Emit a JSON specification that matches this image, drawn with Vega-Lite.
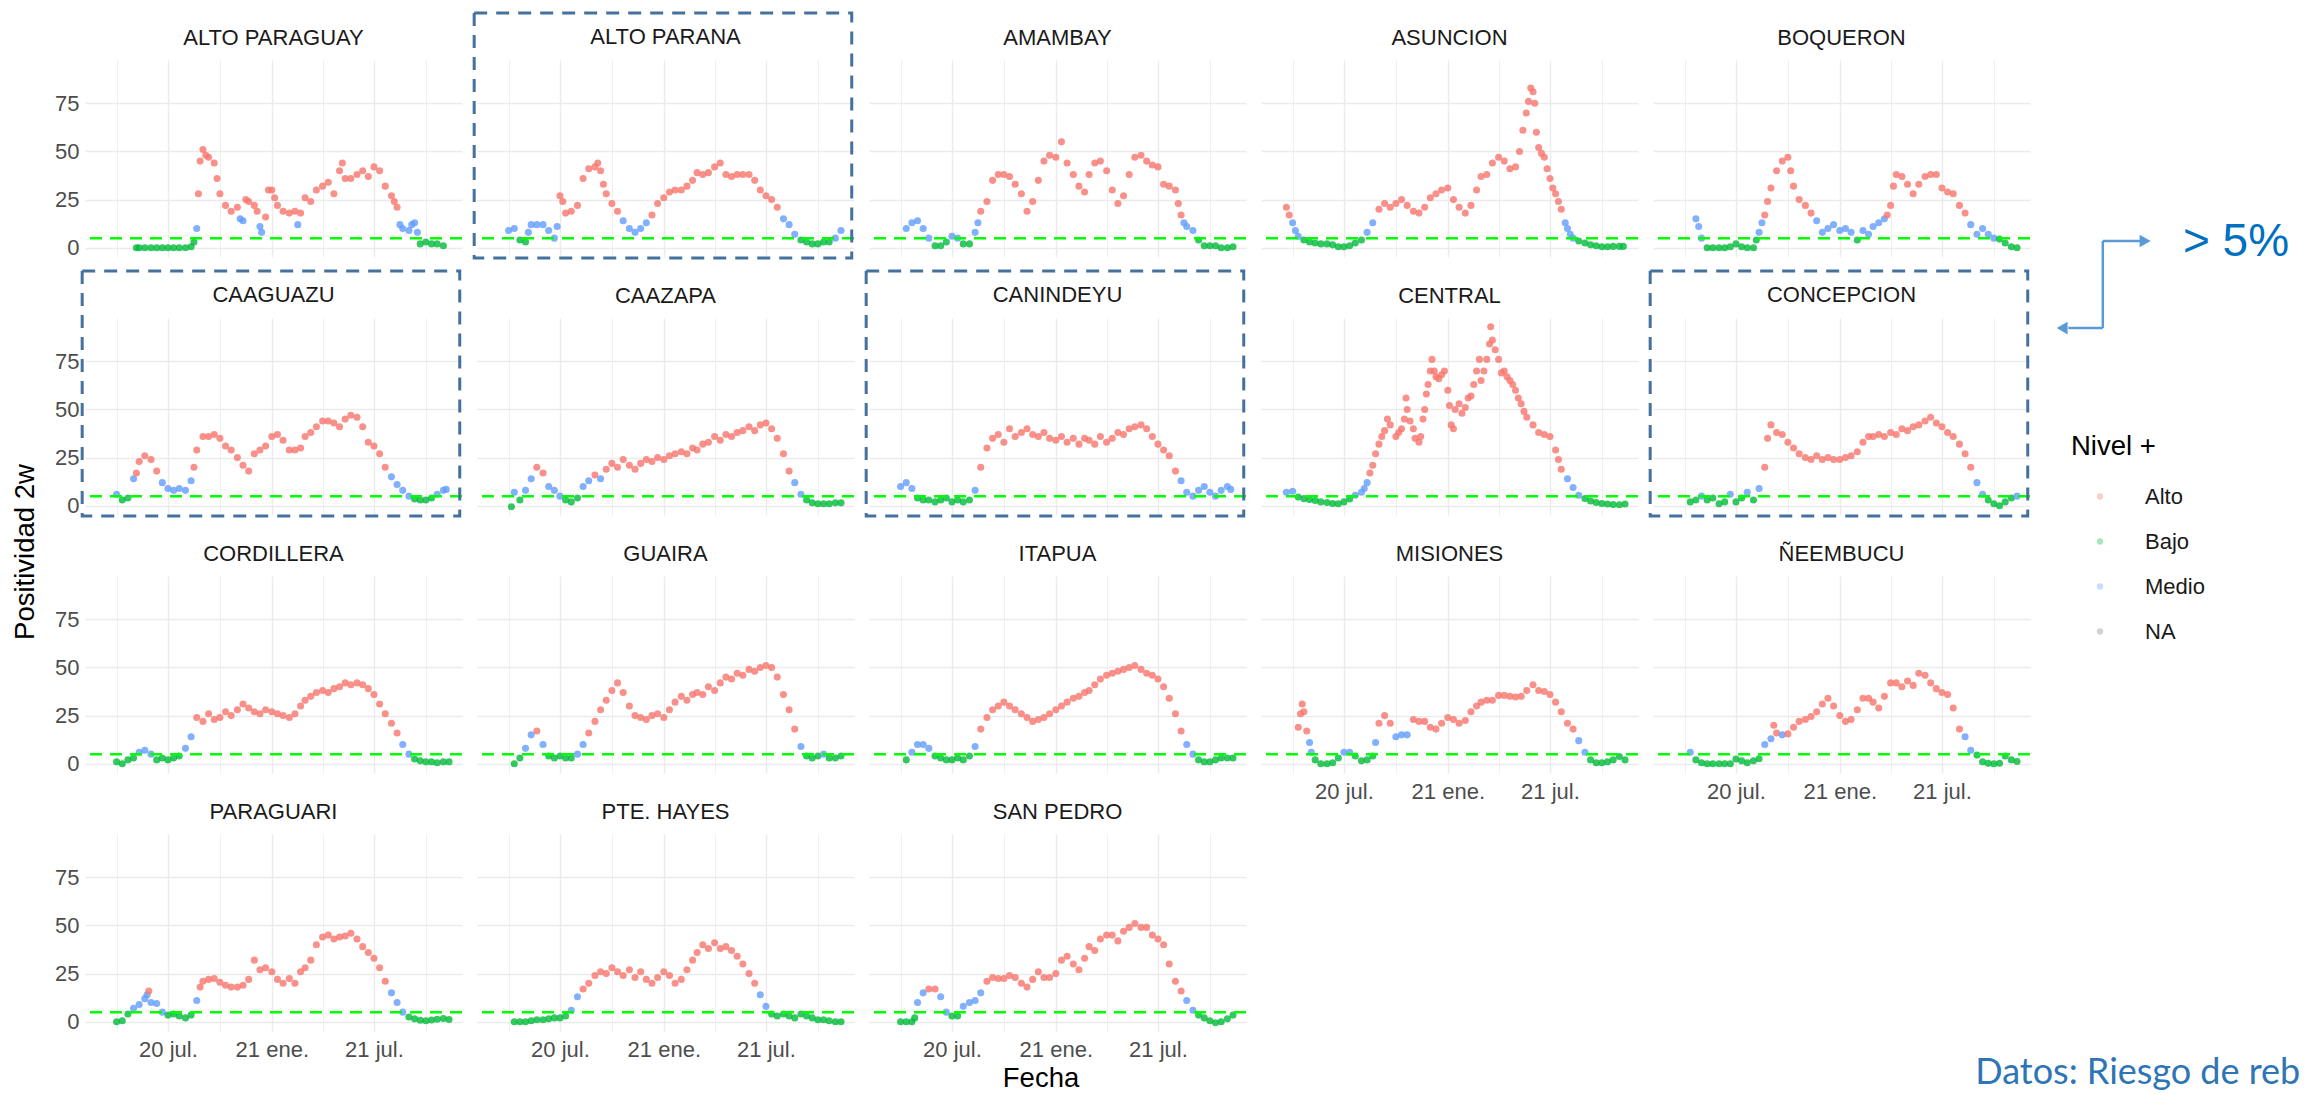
{
  "$schema": "https://vega.github.io/schema/vega-lite/v6.json",
  "background": "white",
  "padding": {"left": 12, "top": 11, "right": 5, "bottom": 2},
  "title": {"text": "Positividad 2w", "orient": "left", "anchor": "middle", "font": "Liberation Sans", "fontSize": 27.5, "fontWeight": "normal", "color": "#000000", "offset": 15},
  "data": {"values": [
{"p":"ALTO PARAGUAY","d":"2020-05-06","v":0,"n":"Bajo"},{"p":"ALTO PARAGUAY","d":"2020-05-11","v":0,"n":"Bajo"},{"p":"ALTO PARAGUAY","d":"2020-05-21","v":0,"n":"Bajo"},{"p":"ALTO PARAGUAY","d":"2020-06-01","v":0,"n":"Bajo"},{"p":"ALTO PARAGUAY","d":"2020-06-11","v":0,"n":"Bajo"},{"p":"ALTO PARAGUAY","d":"2020-06-21","v":0,"n":"Bajo"},{"p":"ALTO PARAGUAY","d":"2020-07-01","v":0,"n":"Bajo"},{"p":"ALTO PARAGUAY","d":"2020-07-11","v":0,"n":"Bajo"},{"p":"ALTO PARAGUAY","d":"2020-07-21","v":0,"n":"Bajo"},{"p":"ALTO PARAGUAY","d":"2020-08-01","v":0,"n":"Bajo"},{"p":"ALTO PARAGUAY","d":"2020-08-11","v":0.5,"n":"Bajo"},{"p":"ALTO PARAGUAY","d":"2020-08-16","v":3,"n":"Bajo"},{"p":"ALTO PARAGUAY","d":"2020-08-21","v":10,"n":"Medio"},{"p":"ALTO PARAGUAY","d":"2020-08-24","v":28,"n":"Alto"},{"p":"ALTO PARAGUAY","d":"2020-08-27","v":45,"n":"Alto"},{"p":"ALTO PARAGUAY","d":"2020-09-01","v":51,"n":"Alto"},{"p":"ALTO PARAGUAY","d":"2020-09-06","v":48,"n":"Alto"},{"p":"ALTO PARAGUAY","d":"2020-09-11","v":47,"n":"Alto"},{"p":"ALTO PARAGUAY","d":"2020-09-21","v":44,"n":"Alto"},{"p":"ALTO PARAGUAY","d":"2020-09-26","v":36,"n":"Alto"},{"p":"ALTO PARAGUAY","d":"2020-10-01","v":28,"n":"Alto"},{"p":"ALTO PARAGUAY","d":"2020-10-11","v":22,"n":"Alto"},{"p":"ALTO PARAGUAY","d":"2020-10-21","v":19,"n":"Alto"},{"p":"ALTO PARAGUAY","d":"2020-11-01","v":21,"n":"Alto"},{"p":"ALTO PARAGUAY","d":"2020-11-06","v":15,"n":"Medio"},{"p":"ALTO PARAGUAY","d":"2020-11-11","v":14,"n":"Medio"},{"p":"ALTO PARAGUAY","d":"2020-11-16","v":25,"n":"Alto"},{"p":"ALTO PARAGUAY","d":"2020-11-21","v":24,"n":"Alto"},{"p":"ALTO PARAGUAY","d":"2020-12-01","v":22,"n":"Alto"},{"p":"ALTO PARAGUAY","d":"2020-12-06","v":19,"n":"Alto"},{"p":"ALTO PARAGUAY","d":"2020-12-11","v":11,"n":"Medio"},{"p":"ALTO PARAGUAY","d":"2020-12-14","v":8,"n":"Medio"},{"p":"ALTO PARAGUAY","d":"2020-12-21","v":16,"n":"Alto"},{"p":"ALTO PARAGUAY","d":"2020-12-26","v":30,"n":"Alto"},{"p":"ALTO PARAGUAY","d":"2021-01-01","v":30,"n":"Alto"},{"p":"ALTO PARAGUAY","d":"2021-01-06","v":26,"n":"Alto"},{"p":"ALTO PARAGUAY","d":"2021-01-11","v":22,"n":"Alto"},{"p":"ALTO PARAGUAY","d":"2021-01-21","v":19,"n":"Alto"},{"p":"ALTO PARAGUAY","d":"2021-02-01","v":18,"n":"Alto"},{"p":"ALTO PARAGUAY","d":"2021-02-11","v":19,"n":"Alto"},{"p":"ALTO PARAGUAY","d":"2021-02-16","v":12,"n":"Medio"},{"p":"ALTO PARAGUAY","d":"2021-02-21","v":18,"n":"Alto"},{"p":"ALTO PARAGUAY","d":"2021-03-01","v":26,"n":"Alto"},{"p":"ALTO PARAGUAY","d":"2021-03-11","v":24,"n":"Alto"},{"p":"ALTO PARAGUAY","d":"2021-03-21","v":30,"n":"Alto"},{"p":"ALTO PARAGUAY","d":"2021-04-01","v":32,"n":"Alto"},{"p":"ALTO PARAGUAY","d":"2021-04-11","v":34,"n":"Alto"},{"p":"ALTO PARAGUAY","d":"2021-04-21","v":28,"n":"Alto"},{"p":"ALTO PARAGUAY","d":"2021-05-01","v":40,"n":"Alto"},{"p":"ALTO PARAGUAY","d":"2021-05-06","v":44,"n":"Alto"},{"p":"ALTO PARAGUAY","d":"2021-05-11","v":36,"n":"Alto"},{"p":"ALTO PARAGUAY","d":"2021-05-21","v":36,"n":"Alto"},{"p":"ALTO PARAGUAY","d":"2021-06-01","v":38,"n":"Alto"},{"p":"ALTO PARAGUAY","d":"2021-06-11","v":40,"n":"Alto"},{"p":"ALTO PARAGUAY","d":"2021-06-21","v":37,"n":"Alto"},{"p":"ALTO PARAGUAY","d":"2021-07-01","v":42,"n":"Alto"},{"p":"ALTO PARAGUAY","d":"2021-07-11","v":40,"n":"Alto"},{"p":"ALTO PARAGUAY","d":"2021-07-21","v":32,"n":"Alto"},{"p":"ALTO PARAGUAY","d":"2021-08-01","v":27,"n":"Alto"},{"p":"ALTO PARAGUAY","d":"2021-08-06","v":24,"n":"Alto"},{"p":"ALTO PARAGUAY","d":"2021-08-11","v":21,"n":"Alto"},{"p":"ALTO PARAGUAY","d":"2021-08-16","v":12,"n":"Medio"},{"p":"ALTO PARAGUAY","d":"2021-08-21","v":10,"n":"Medio"},{"p":"ALTO PARAGUAY","d":"2021-09-01","v":9,"n":"Medio"},{"p":"ALTO PARAGUAY","d":"2021-09-06","v":12,"n":"Medio"},{"p":"ALTO PARAGUAY","d":"2021-09-11","v":13,"n":"Medio"},{"p":"ALTO PARAGUAY","d":"2021-09-16","v":8,"n":"Medio"},{"p":"ALTO PARAGUAY","d":"2021-09-21","v":2,"n":"Bajo"},{"p":"ALTO PARAGUAY","d":"2021-10-01","v":3,"n":"Bajo"},{"p":"ALTO PARAGUAY","d":"2021-10-11","v":2,"n":"Bajo"},{"p":"ALTO PARAGUAY","d":"2021-10-21","v":2,"n":"Bajo"},{"p":"ALTO PARAGUAY","d":"2021-11-01","v":1,"n":"Bajo"},
{"p":"ALTO PARANA","d":"2020-04-01","v":9,"n":"Medio"},{"p":"ALTO PARANA","d":"2020-04-11","v":10,"n":"Medio"},{"p":"ALTO PARANA","d":"2020-04-21","v":4,"n":"Bajo"},{"p":"ALTO PARANA","d":"2020-05-01","v":3,"n":"Bajo"},{"p":"ALTO PARANA","d":"2020-05-06","v":8,"n":"Medio"},{"p":"ALTO PARANA","d":"2020-05-11","v":12,"n":"Medio"},{"p":"ALTO PARANA","d":"2020-05-21","v":12,"n":"Medio"},{"p":"ALTO PARANA","d":"2020-06-01","v":12,"n":"Medio"},{"p":"ALTO PARANA","d":"2020-06-11","v":9,"n":"Medio"},{"p":"ALTO PARANA","d":"2020-06-21","v":5,"n":"Medio"},{"p":"ALTO PARANA","d":"2020-06-26","v":11,"n":"Medio"},{"p":"ALTO PARANA","d":"2020-07-01","v":27,"n":"Alto"},{"p":"ALTO PARANA","d":"2020-07-06","v":24,"n":"Alto"},{"p":"ALTO PARANA","d":"2020-07-11","v":18,"n":"Alto"},{"p":"ALTO PARANA","d":"2020-07-21","v":19,"n":"Alto"},{"p":"ALTO PARANA","d":"2020-08-01","v":22,"n":"Alto"},{"p":"ALTO PARANA","d":"2020-08-11","v":36,"n":"Alto"},{"p":"ALTO PARANA","d":"2020-08-21","v":41,"n":"Alto"},{"p":"ALTO PARANA","d":"2020-09-01","v":42,"n":"Alto"},{"p":"ALTO PARANA","d":"2020-09-06","v":44,"n":"Alto"},{"p":"ALTO PARANA","d":"2020-09-11","v":40,"n":"Alto"},{"p":"ALTO PARANA","d":"2020-09-16","v":33,"n":"Alto"},{"p":"ALTO PARANA","d":"2020-09-21","v":28,"n":"Alto"},{"p":"ALTO PARANA","d":"2020-10-01","v":23,"n":"Alto"},{"p":"ALTO PARANA","d":"2020-10-11","v":19,"n":"Alto"},{"p":"ALTO PARANA","d":"2020-10-21","v":14,"n":"Medio"},{"p":"ALTO PARANA","d":"2020-11-01","v":10,"n":"Medio"},{"p":"ALTO PARANA","d":"2020-11-11","v":8,"n":"Medio"},{"p":"ALTO PARANA","d":"2020-11-21","v":10,"n":"Medio"},{"p":"ALTO PARANA","d":"2020-12-01","v":13,"n":"Medio"},{"p":"ALTO PARANA","d":"2020-12-11","v":17,"n":"Alto"},{"p":"ALTO PARANA","d":"2020-12-21","v":23,"n":"Alto"},{"p":"ALTO PARANA","d":"2021-01-01","v":26,"n":"Alto"},{"p":"ALTO PARANA","d":"2021-01-11","v":29,"n":"Alto"},{"p":"ALTO PARANA","d":"2021-01-21","v":30,"n":"Alto"},{"p":"ALTO PARANA","d":"2021-02-01","v":30,"n":"Alto"},{"p":"ALTO PARANA","d":"2021-02-11","v":32,"n":"Alto"},{"p":"ALTO PARANA","d":"2021-02-21","v":35,"n":"Alto"},{"p":"ALTO PARANA","d":"2021-03-01","v":39,"n":"Alto"},{"p":"ALTO PARANA","d":"2021-03-11","v":38,"n":"Alto"},{"p":"ALTO PARANA","d":"2021-03-21","v":39,"n":"Alto"},{"p":"ALTO PARANA","d":"2021-04-01","v":42,"n":"Alto"},{"p":"ALTO PARANA","d":"2021-04-11","v":44,"n":"Alto"},{"p":"ALTO PARANA","d":"2021-04-21","v":38,"n":"Alto"},{"p":"ALTO PARANA","d":"2021-05-01","v":37,"n":"Alto"},{"p":"ALTO PARANA","d":"2021-05-11","v":38,"n":"Alto"},{"p":"ALTO PARANA","d":"2021-05-21","v":38,"n":"Alto"},{"p":"ALTO PARANA","d":"2021-06-01","v":38,"n":"Alto"},{"p":"ALTO PARANA","d":"2021-06-11","v":35,"n":"Alto"},{"p":"ALTO PARANA","d":"2021-06-21","v":30,"n":"Alto"},{"p":"ALTO PARANA","d":"2021-07-01","v":27,"n":"Alto"},{"p":"ALTO PARANA","d":"2021-07-11","v":25,"n":"Alto"},{"p":"ALTO PARANA","d":"2021-07-21","v":21,"n":"Alto"},{"p":"ALTO PARANA","d":"2021-08-01","v":15,"n":"Medio"},{"p":"ALTO PARANA","d":"2021-08-11","v":12,"n":"Medio"},{"p":"ALTO PARANA","d":"2021-08-21","v":7,"n":"Medio"},{"p":"ALTO PARANA","d":"2021-09-01","v":4,"n":"Bajo"},{"p":"ALTO PARANA","d":"2021-09-11","v":3,"n":"Bajo"},{"p":"ALTO PARANA","d":"2021-09-21","v":2,"n":"Bajo"},{"p":"ALTO PARANA","d":"2021-10-01","v":2,"n":"Bajo"},{"p":"ALTO PARANA","d":"2021-10-11","v":3,"n":"Bajo"},{"p":"ALTO PARANA","d":"2021-10-21","v":3,"n":"Bajo"},{"p":"ALTO PARANA","d":"2021-11-01","v":5,"n":"Medio"},{"p":"ALTO PARANA","d":"2021-11-11","v":9,"n":"Medio"},
{"p":"AMAMBAY","d":"2020-04-11","v":10,"n":"Medio"},{"p":"AMAMBAY","d":"2020-04-21","v":13,"n":"Medio"},{"p":"AMAMBAY","d":"2020-05-01","v":14,"n":"Medio"},{"p":"AMAMBAY","d":"2020-05-11","v":10,"n":"Medio"},{"p":"AMAMBAY","d":"2020-05-21","v":5,"n":"Medio"},{"p":"AMAMBAY","d":"2020-06-01","v":1,"n":"Bajo"},{"p":"AMAMBAY","d":"2020-06-11","v":1,"n":"Bajo"},{"p":"AMAMBAY","d":"2020-06-21","v":3,"n":"Bajo"},{"p":"AMAMBAY","d":"2020-07-01","v":6,"n":"Medio"},{"p":"AMAMBAY","d":"2020-07-11","v":5,"n":"Medio"},{"p":"AMAMBAY","d":"2020-07-21","v":2,"n":"Bajo"},{"p":"AMAMBAY","d":"2020-08-01","v":2,"n":"Bajo"},{"p":"AMAMBAY","d":"2020-08-11","v":8,"n":"Medio"},{"p":"AMAMBAY","d":"2020-08-16","v":13,"n":"Medio"},{"p":"AMAMBAY","d":"2020-08-21","v":19,"n":"Alto"},{"p":"AMAMBAY","d":"2020-09-01","v":24,"n":"Alto"},{"p":"AMAMBAY","d":"2020-09-11","v":35,"n":"Alto"},{"p":"AMAMBAY","d":"2020-09-21","v":38,"n":"Alto"},{"p":"AMAMBAY","d":"2020-10-01","v":38,"n":"Alto"},{"p":"AMAMBAY","d":"2020-10-11","v":37,"n":"Alto"},{"p":"AMAMBAY","d":"2020-10-21","v":33,"n":"Alto"},{"p":"AMAMBAY","d":"2020-11-01","v":28,"n":"Alto"},{"p":"AMAMBAY","d":"2020-11-11","v":19,"n":"Alto"},{"p":"AMAMBAY","d":"2020-11-21","v":24,"n":"Alto"},{"p":"AMAMBAY","d":"2020-12-01","v":35,"n":"Alto"},{"p":"AMAMBAY","d":"2020-12-11","v":45,"n":"Alto"},{"p":"AMAMBAY","d":"2020-12-21","v":48,"n":"Alto"},{"p":"AMAMBAY","d":"2021-01-01","v":47,"n":"Alto"},{"p":"AMAMBAY","d":"2021-01-11","v":55,"n":"Alto"},{"p":"AMAMBAY","d":"2021-01-21","v":44,"n":"Alto"},{"p":"AMAMBAY","d":"2021-02-01","v":38,"n":"Alto"},{"p":"AMAMBAY","d":"2021-02-11","v":32,"n":"Alto"},{"p":"AMAMBAY","d":"2021-02-21","v":29,"n":"Alto"},{"p":"AMAMBAY","d":"2021-03-01","v":38,"n":"Alto"},{"p":"AMAMBAY","d":"2021-03-11","v":44,"n":"Alto"},{"p":"AMAMBAY","d":"2021-03-21","v":45,"n":"Alto"},{"p":"AMAMBAY","d":"2021-04-01","v":40,"n":"Alto"},{"p":"AMAMBAY","d":"2021-04-11","v":30,"n":"Alto"},{"p":"AMAMBAY","d":"2021-04-21","v":23,"n":"Alto"},{"p":"AMAMBAY","d":"2021-05-01","v":27,"n":"Alto"},{"p":"AMAMBAY","d":"2021-05-11","v":38,"n":"Alto"},{"p":"AMAMBAY","d":"2021-05-21","v":47,"n":"Alto"},{"p":"AMAMBAY","d":"2021-06-01","v":48,"n":"Alto"},{"p":"AMAMBAY","d":"2021-06-11","v":45,"n":"Alto"},{"p":"AMAMBAY","d":"2021-06-21","v":43,"n":"Alto"},{"p":"AMAMBAY","d":"2021-07-01","v":42,"n":"Alto"},{"p":"AMAMBAY","d":"2021-07-11","v":33,"n":"Alto"},{"p":"AMAMBAY","d":"2021-07-21","v":32,"n":"Alto"},{"p":"AMAMBAY","d":"2021-08-01","v":30,"n":"Alto"},{"p":"AMAMBAY","d":"2021-08-06","v":23,"n":"Alto"},{"p":"AMAMBAY","d":"2021-08-11","v":17,"n":"Alto"},{"p":"AMAMBAY","d":"2021-08-16","v":13,"n":"Medio"},{"p":"AMAMBAY","d":"2021-08-21","v":11,"n":"Medio"},{"p":"AMAMBAY","d":"2021-09-01","v":9,"n":"Medio"},{"p":"AMAMBAY","d":"2021-09-11","v":4,"n":"Bajo"},{"p":"AMAMBAY","d":"2021-09-21","v":1,"n":"Bajo"},{"p":"AMAMBAY","d":"2021-10-01","v":1,"n":"Bajo"},{"p":"AMAMBAY","d":"2021-10-11","v":1,"n":"Bajo"},{"p":"AMAMBAY","d":"2021-10-21","v":0,"n":"Bajo"},{"p":"AMAMBAY","d":"2021-11-01","v":0,"n":"Bajo"},{"p":"AMAMBAY","d":"2021-11-11","v":0.5,"n":"Bajo"},
{"p":"ASUNCION","d":"2020-03-21","v":21,"n":"Alto"},{"p":"ASUNCION","d":"2020-03-26","v":17,"n":"Alto"},{"p":"ASUNCION","d":"2020-04-01","v":13,"n":"Medio"},{"p":"ASUNCION","d":"2020-04-06","v":9,"n":"Medio"},{"p":"ASUNCION","d":"2020-04-11","v":6,"n":"Medio"},{"p":"ASUNCION","d":"2020-04-21","v":4,"n":"Bajo"},{"p":"ASUNCION","d":"2020-05-01","v":3,"n":"Bajo"},{"p":"ASUNCION","d":"2020-05-11","v":2.5,"n":"Bajo"},{"p":"ASUNCION","d":"2020-05-21","v":2,"n":"Bajo"},{"p":"ASUNCION","d":"2020-06-01","v":2,"n":"Bajo"},{"p":"ASUNCION","d":"2020-06-11","v":1.5,"n":"Bajo"},{"p":"ASUNCION","d":"2020-06-21","v":0.5,"n":"Bajo"},{"p":"ASUNCION","d":"2020-07-01","v":0.5,"n":"Bajo"},{"p":"ASUNCION","d":"2020-07-11","v":1,"n":"Bajo"},{"p":"ASUNCION","d":"2020-07-21","v":2.5,"n":"Bajo"},{"p":"ASUNCION","d":"2020-08-01","v":4,"n":"Bajo"},{"p":"ASUNCION","d":"2020-08-11","v":8,"n":"Medio"},{"p":"ASUNCION","d":"2020-08-21","v":13,"n":"Medio"},{"p":"ASUNCION","d":"2020-09-01","v":20,"n":"Alto"},{"p":"ASUNCION","d":"2020-09-11","v":23,"n":"Alto"},{"p":"ASUNCION","d":"2020-09-21","v":21,"n":"Alto"},{"p":"ASUNCION","d":"2020-10-01","v":23,"n":"Alto"},{"p":"ASUNCION","d":"2020-10-11","v":25,"n":"Alto"},{"p":"ASUNCION","d":"2020-10-21","v":22,"n":"Alto"},{"p":"ASUNCION","d":"2020-11-01","v":19,"n":"Alto"},{"p":"ASUNCION","d":"2020-11-11","v":18,"n":"Alto"},{"p":"ASUNCION","d":"2020-11-21","v":21,"n":"Alto"},{"p":"ASUNCION","d":"2020-12-01","v":26,"n":"Alto"},{"p":"ASUNCION","d":"2020-12-11","v":28,"n":"Alto"},{"p":"ASUNCION","d":"2020-12-21","v":30,"n":"Alto"},{"p":"ASUNCION","d":"2021-01-01","v":31,"n":"Alto"},{"p":"ASUNCION","d":"2021-01-11","v":25,"n":"Alto"},{"p":"ASUNCION","d":"2021-01-21","v":21,"n":"Alto"},{"p":"ASUNCION","d":"2021-02-01","v":18,"n":"Alto"},{"p":"ASUNCION","d":"2021-02-11","v":22,"n":"Alto"},{"p":"ASUNCION","d":"2021-02-21","v":30,"n":"Alto"},{"p":"ASUNCION","d":"2021-03-01","v":37,"n":"Alto"},{"p":"ASUNCION","d":"2021-03-11","v":38,"n":"Alto"},{"p":"ASUNCION","d":"2021-03-21","v":44,"n":"Alto"},{"p":"ASUNCION","d":"2021-04-01","v":47,"n":"Alto"},{"p":"ASUNCION","d":"2021-04-11","v":45,"n":"Alto"},{"p":"ASUNCION","d":"2021-04-21","v":41,"n":"Alto"},{"p":"ASUNCION","d":"2021-05-01","v":42,"n":"Alto"},{"p":"ASUNCION","d":"2021-05-08","v":50,"n":"Alto"},{"p":"ASUNCION","d":"2021-05-14","v":61,"n":"Alto"},{"p":"ASUNCION","d":"2021-05-20","v":70,"n":"Alto"},{"p":"ASUNCION","d":"2021-05-24","v":76,"n":"Alto"},{"p":"ASUNCION","d":"2021-05-28","v":83,"n":"Alto"},{"p":"ASUNCION","d":"2021-06-01","v":81,"n":"Alto"},{"p":"ASUNCION","d":"2021-06-04","v":75,"n":"Alto"},{"p":"ASUNCION","d":"2021-06-07","v":60,"n":"Alto"},{"p":"ASUNCION","d":"2021-06-11","v":52,"n":"Alto"},{"p":"ASUNCION","d":"2021-06-16","v":49,"n":"Alto"},{"p":"ASUNCION","d":"2021-06-21","v":47,"n":"Alto"},{"p":"ASUNCION","d":"2021-06-26","v":41,"n":"Alto"},{"p":"ASUNCION","d":"2021-07-01","v":36,"n":"Alto"},{"p":"ASUNCION","d":"2021-07-06","v":31,"n":"Alto"},{"p":"ASUNCION","d":"2021-07-11","v":28,"n":"Alto"},{"p":"ASUNCION","d":"2021-07-16","v":24,"n":"Alto"},{"p":"ASUNCION","d":"2021-07-21","v":20,"n":"Alto"},{"p":"ASUNCION","d":"2021-07-28","v":13,"n":"Medio"},{"p":"ASUNCION","d":"2021-08-01","v":10,"n":"Medio"},{"p":"ASUNCION","d":"2021-08-06","v":7,"n":"Medio"},{"p":"ASUNCION","d":"2021-08-11","v":5,"n":"Medio"},{"p":"ASUNCION","d":"2021-08-21","v":3.5,"n":"Bajo"},{"p":"ASUNCION","d":"2021-09-01","v":2.5,"n":"Bajo"},{"p":"ASUNCION","d":"2021-09-11","v":1.5,"n":"Bajo"},{"p":"ASUNCION","d":"2021-09-21","v":1,"n":"Bajo"},{"p":"ASUNCION","d":"2021-10-01","v":0.5,"n":"Bajo"},{"p":"ASUNCION","d":"2021-10-11","v":0.5,"n":"Bajo"},{"p":"ASUNCION","d":"2021-10-21","v":0.7,"n":"Bajo"},{"p":"ASUNCION","d":"2021-11-01","v":0.7,"n":"Bajo"},{"p":"ASUNCION","d":"2021-11-08","v":0.7,"n":"Bajo"},
{"p":"BOQUERON","d":"2020-04-21","v":15,"n":"Medio"},{"p":"BOQUERON","d":"2020-04-26","v":11,"n":"Medio"},{"p":"BOQUERON","d":"2020-05-01","v":5,"n":"Medio"},{"p":"BOQUERON","d":"2020-05-11","v":0,"n":"Bajo"},{"p":"BOQUERON","d":"2020-05-21","v":0,"n":"Bajo"},{"p":"BOQUERON","d":"2020-06-01","v":0,"n":"Bajo"},{"p":"BOQUERON","d":"2020-06-11","v":0,"n":"Bajo"},{"p":"BOQUERON","d":"2020-06-21","v":0.5,"n":"Bajo"},{"p":"BOQUERON","d":"2020-07-01","v":2,"n":"Bajo"},{"p":"BOQUERON","d":"2020-07-11","v":0.5,"n":"Bajo"},{"p":"BOQUERON","d":"2020-07-21","v":0,"n":"Bajo"},{"p":"BOQUERON","d":"2020-08-01","v":0,"n":"Bajo"},{"p":"BOQUERON","d":"2020-08-06","v":4,"n":"Bajo"},{"p":"BOQUERON","d":"2020-08-11","v":8,"n":"Medio"},{"p":"BOQUERON","d":"2020-08-16","v":13,"n":"Medio"},{"p":"BOQUERON","d":"2020-08-21","v":17,"n":"Alto"},{"p":"BOQUERON","d":"2020-08-26","v":24,"n":"Alto"},{"p":"BOQUERON","d":"2020-09-01","v":31,"n":"Alto"},{"p":"BOQUERON","d":"2020-09-11","v":40,"n":"Alto"},{"p":"BOQUERON","d":"2020-09-21","v":45,"n":"Alto"},{"p":"BOQUERON","d":"2020-10-01","v":47,"n":"Alto"},{"p":"BOQUERON","d":"2020-10-06","v":40,"n":"Alto"},{"p":"BOQUERON","d":"2020-10-11","v":32,"n":"Alto"},{"p":"BOQUERON","d":"2020-10-21","v":25,"n":"Alto"},{"p":"BOQUERON","d":"2020-11-01","v":22,"n":"Alto"},{"p":"BOQUERON","d":"2020-11-11","v":18,"n":"Alto"},{"p":"BOQUERON","d":"2020-11-21","v":14,"n":"Medio"},{"p":"BOQUERON","d":"2020-12-01","v":8,"n":"Medio"},{"p":"BOQUERON","d":"2020-12-11","v":10,"n":"Medio"},{"p":"BOQUERON","d":"2020-12-21","v":12,"n":"Medio"},{"p":"BOQUERON","d":"2021-01-01","v":9,"n":"Medio"},{"p":"BOQUERON","d":"2021-01-11","v":10,"n":"Medio"},{"p":"BOQUERON","d":"2021-01-21","v":8,"n":"Medio"},{"p":"BOQUERON","d":"2021-02-01","v":4,"n":"Bajo"},{"p":"BOQUERON","d":"2021-02-11","v":9,"n":"Medio"},{"p":"BOQUERON","d":"2021-02-21","v":7,"n":"Medio"},{"p":"BOQUERON","d":"2021-03-01","v":11,"n":"Medio"},{"p":"BOQUERON","d":"2021-03-11","v":13,"n":"Medio"},{"p":"BOQUERON","d":"2021-03-21","v":15,"n":"Medio"},{"p":"BOQUERON","d":"2021-03-26","v":17,"n":"Alto"},{"p":"BOQUERON","d":"2021-04-01","v":22,"n":"Alto"},{"p":"BOQUERON","d":"2021-04-06","v":32,"n":"Alto"},{"p":"BOQUERON","d":"2021-04-11","v":38,"n":"Alto"},{"p":"BOQUERON","d":"2021-04-21","v":37,"n":"Alto"},{"p":"BOQUERON","d":"2021-05-01","v":33,"n":"Alto"},{"p":"BOQUERON","d":"2021-05-11","v":28,"n":"Alto"},{"p":"BOQUERON","d":"2021-05-21","v":33,"n":"Alto"},{"p":"BOQUERON","d":"2021-06-01","v":37,"n":"Alto"},{"p":"BOQUERON","d":"2021-06-11","v":38,"n":"Alto"},{"p":"BOQUERON","d":"2021-06-21","v":38,"n":"Alto"},{"p":"BOQUERON","d":"2021-07-01","v":31,"n":"Alto"},{"p":"BOQUERON","d":"2021-07-11","v":29,"n":"Alto"},{"p":"BOQUERON","d":"2021-07-21","v":28,"n":"Alto"},{"p":"BOQUERON","d":"2021-08-01","v":22,"n":"Alto"},{"p":"BOQUERON","d":"2021-08-11","v":18,"n":"Alto"},{"p":"BOQUERON","d":"2021-08-21","v":12,"n":"Medio"},{"p":"BOQUERON","d":"2021-09-01","v":7,"n":"Medio"},{"p":"BOQUERON","d":"2021-09-11","v":10,"n":"Medio"},{"p":"BOQUERON","d":"2021-09-21","v":7,"n":"Medio"},{"p":"BOQUERON","d":"2021-10-01","v":5,"n":"Medio"},{"p":"BOQUERON","d":"2021-10-11","v":4.5,"n":"Bajo"},{"p":"BOQUERON","d":"2021-10-21","v":2.5,"n":"Bajo"},{"p":"BOQUERON","d":"2021-11-01","v":0.5,"n":"Bajo"},{"p":"BOQUERON","d":"2021-11-11","v":0,"n":"Bajo"},
{"p":"CAAGUAZU","d":"2020-04-01","v":6,"n":"Medio"},{"p":"CAAGUAZU","d":"2020-04-11","v":3,"n":"Bajo"},{"p":"CAAGUAZU","d":"2020-04-21","v":4,"n":"Bajo"},{"p":"CAAGUAZU","d":"2020-05-01","v":14,"n":"Medio"},{"p":"CAAGUAZU","d":"2020-05-06","v":17,"n":"Alto"},{"p":"CAAGUAZU","d":"2020-05-11","v":23,"n":"Alto"},{"p":"CAAGUAZU","d":"2020-05-21","v":26,"n":"Alto"},{"p":"CAAGUAZU","d":"2020-06-01","v":24,"n":"Alto"},{"p":"CAAGUAZU","d":"2020-06-11","v":18,"n":"Alto"},{"p":"CAAGUAZU","d":"2020-06-21","v":12,"n":"Medio"},{"p":"CAAGUAZU","d":"2020-07-01","v":9,"n":"Medio"},{"p":"CAAGUAZU","d":"2020-07-11","v":8,"n":"Medio"},{"p":"CAAGUAZU","d":"2020-07-21","v":9,"n":"Medio"},{"p":"CAAGUAZU","d":"2020-08-01","v":8,"n":"Medio"},{"p":"CAAGUAZU","d":"2020-08-11","v":13,"n":"Medio"},{"p":"CAAGUAZU","d":"2020-08-16","v":20,"n":"Alto"},{"p":"CAAGUAZU","d":"2020-08-21","v":29,"n":"Alto"},{"p":"CAAGUAZU","d":"2020-09-01","v":36,"n":"Alto"},{"p":"CAAGUAZU","d":"2020-09-11","v":36,"n":"Alto"},{"p":"CAAGUAZU","d":"2020-09-21","v":37,"n":"Alto"},{"p":"CAAGUAZU","d":"2020-10-01","v":35,"n":"Alto"},{"p":"CAAGUAZU","d":"2020-10-11","v":31,"n":"Alto"},{"p":"CAAGUAZU","d":"2020-10-21","v":29,"n":"Alto"},{"p":"CAAGUAZU","d":"2020-11-01","v":25,"n":"Alto"},{"p":"CAAGUAZU","d":"2020-11-11","v":21,"n":"Alto"},{"p":"CAAGUAZU","d":"2020-11-21","v":18,"n":"Alto"},{"p":"CAAGUAZU","d":"2020-12-01","v":27,"n":"Alto"},{"p":"CAAGUAZU","d":"2020-12-11","v":29,"n":"Alto"},{"p":"CAAGUAZU","d":"2020-12-21","v":31,"n":"Alto"},{"p":"CAAGUAZU","d":"2021-01-01","v":36,"n":"Alto"},{"p":"CAAGUAZU","d":"2021-01-11","v":37,"n":"Alto"},{"p":"CAAGUAZU","d":"2021-01-21","v":34,"n":"Alto"},{"p":"CAAGUAZU","d":"2021-02-01","v":29,"n":"Alto"},{"p":"CAAGUAZU","d":"2021-02-11","v":29,"n":"Alto"},{"p":"CAAGUAZU","d":"2021-02-21","v":30,"n":"Alto"},{"p":"CAAGUAZU","d":"2021-03-01","v":36,"n":"Alto"},{"p":"CAAGUAZU","d":"2021-03-11","v":38,"n":"Alto"},{"p":"CAAGUAZU","d":"2021-03-21","v":41,"n":"Alto"},{"p":"CAAGUAZU","d":"2021-04-01","v":44,"n":"Alto"},{"p":"CAAGUAZU","d":"2021-04-11","v":44,"n":"Alto"},{"p":"CAAGUAZU","d":"2021-04-21","v":43,"n":"Alto"},{"p":"CAAGUAZU","d":"2021-05-01","v":41,"n":"Alto"},{"p":"CAAGUAZU","d":"2021-05-11","v":45,"n":"Alto"},{"p":"CAAGUAZU","d":"2021-05-21","v":47,"n":"Alto"},{"p":"CAAGUAZU","d":"2021-06-01","v":46,"n":"Alto"},{"p":"CAAGUAZU","d":"2021-06-11","v":41,"n":"Alto"},{"p":"CAAGUAZU","d":"2021-06-21","v":33,"n":"Alto"},{"p":"CAAGUAZU","d":"2021-07-01","v":31,"n":"Alto"},{"p":"CAAGUAZU","d":"2021-07-11","v":27,"n":"Alto"},{"p":"CAAGUAZU","d":"2021-07-21","v":20,"n":"Alto"},{"p":"CAAGUAZU","d":"2021-08-01","v":15,"n":"Medio"},{"p":"CAAGUAZU","d":"2021-08-11","v":11,"n":"Medio"},{"p":"CAAGUAZU","d":"2021-08-21","v":8,"n":"Medio"},{"p":"CAAGUAZU","d":"2021-09-01","v":5,"n":"Medio"},{"p":"CAAGUAZU","d":"2021-09-11","v":3.5,"n":"Bajo"},{"p":"CAAGUAZU","d":"2021-09-21","v":3,"n":"Bajo"},{"p":"CAAGUAZU","d":"2021-10-01","v":3,"n":"Bajo"},{"p":"CAAGUAZU","d":"2021-10-11","v":4,"n":"Bajo"},{"p":"CAAGUAZU","d":"2021-10-21","v":6,"n":"Medio"},{"p":"CAAGUAZU","d":"2021-11-01","v":8,"n":"Medio"},{"p":"CAAGUAZU","d":"2021-11-06","v":8.5,"n":"Medio"},
{"p":"CAAZAPA","d":"2020-04-06","v":-0.5,"n":"Bajo"},{"p":"CAAZAPA","d":"2020-04-11","v":7,"n":"Medio"},{"p":"CAAZAPA","d":"2020-04-21","v":3,"n":"Bajo"},{"p":"CAAZAPA","d":"2020-05-01","v":8,"n":"Medio"},{"p":"CAAZAPA","d":"2020-05-11","v":14,"n":"Medio"},{"p":"CAAZAPA","d":"2020-05-21","v":20,"n":"Alto"},{"p":"CAAZAPA","d":"2020-06-01","v":17,"n":"Alto"},{"p":"CAAZAPA","d":"2020-06-11","v":10,"n":"Medio"},{"p":"CAAZAPA","d":"2020-06-21","v":8,"n":"Medio"},{"p":"CAAZAPA","d":"2020-07-01","v":5,"n":"Medio"},{"p":"CAAZAPA","d":"2020-07-11","v":3,"n":"Bajo"},{"p":"CAAZAPA","d":"2020-07-21","v":2,"n":"Bajo"},{"p":"CAAZAPA","d":"2020-08-01","v":4,"n":"Bajo"},{"p":"CAAZAPA","d":"2020-08-11","v":10,"n":"Medio"},{"p":"CAAZAPA","d":"2020-08-21","v":13,"n":"Medio"},{"p":"CAAZAPA","d":"2020-09-01","v":16,"n":"Alto"},{"p":"CAAZAPA","d":"2020-09-11","v":14,"n":"Medio"},{"p":"CAAZAPA","d":"2020-09-21","v":19,"n":"Alto"},{"p":"CAAZAPA","d":"2020-10-01","v":22,"n":"Alto"},{"p":"CAAZAPA","d":"2020-10-11","v":20,"n":"Alto"},{"p":"CAAZAPA","d":"2020-10-21","v":24,"n":"Alto"},{"p":"CAAZAPA","d":"2020-11-01","v":21,"n":"Alto"},{"p":"CAAZAPA","d":"2020-11-11","v":19,"n":"Alto"},{"p":"CAAZAPA","d":"2020-11-21","v":22,"n":"Alto"},{"p":"CAAZAPA","d":"2020-12-01","v":24,"n":"Alto"},{"p":"CAAZAPA","d":"2020-12-11","v":23,"n":"Alto"},{"p":"CAAZAPA","d":"2020-12-21","v":25,"n":"Alto"},{"p":"CAAZAPA","d":"2021-01-01","v":24,"n":"Alto"},{"p":"CAAZAPA","d":"2021-01-11","v":26,"n":"Alto"},{"p":"CAAZAPA","d":"2021-01-21","v":27,"n":"Alto"},{"p":"CAAZAPA","d":"2021-02-01","v":28,"n":"Alto"},{"p":"CAAZAPA","d":"2021-02-11","v":27,"n":"Alto"},{"p":"CAAZAPA","d":"2021-02-21","v":30,"n":"Alto"},{"p":"CAAZAPA","d":"2021-03-01","v":29,"n":"Alto"},{"p":"CAAZAPA","d":"2021-03-11","v":32,"n":"Alto"},{"p":"CAAZAPA","d":"2021-03-21","v":33,"n":"Alto"},{"p":"CAAZAPA","d":"2021-04-01","v":36,"n":"Alto"},{"p":"CAAZAPA","d":"2021-04-11","v":34,"n":"Alto"},{"p":"CAAZAPA","d":"2021-04-21","v":37,"n":"Alto"},{"p":"CAAZAPA","d":"2021-05-01","v":36,"n":"Alto"},{"p":"CAAZAPA","d":"2021-05-11","v":38,"n":"Alto"},{"p":"CAAZAPA","d":"2021-05-21","v":39,"n":"Alto"},{"p":"CAAZAPA","d":"2021-06-01","v":41,"n":"Alto"},{"p":"CAAZAPA","d":"2021-06-11","v":39,"n":"Alto"},{"p":"CAAZAPA","d":"2021-06-21","v":42,"n":"Alto"},{"p":"CAAZAPA","d":"2021-07-01","v":43,"n":"Alto"},{"p":"CAAZAPA","d":"2021-07-11","v":40,"n":"Alto"},{"p":"CAAZAPA","d":"2021-07-21","v":35,"n":"Alto"},{"p":"CAAZAPA","d":"2021-08-01","v":27,"n":"Alto"},{"p":"CAAZAPA","d":"2021-08-11","v":18,"n":"Alto"},{"p":"CAAZAPA","d":"2021-08-21","v":12,"n":"Medio"},{"p":"CAAZAPA","d":"2021-09-01","v":6,"n":"Medio"},{"p":"CAAZAPA","d":"2021-09-11","v":3,"n":"Bajo"},{"p":"CAAZAPA","d":"2021-09-21","v":1.5,"n":"Bajo"},{"p":"CAAZAPA","d":"2021-10-01","v":1,"n":"Bajo"},{"p":"CAAZAPA","d":"2021-10-11","v":1,"n":"Bajo"},{"p":"CAAZAPA","d":"2021-10-21","v":1,"n":"Bajo"},{"p":"CAAZAPA","d":"2021-11-01","v":1.5,"n":"Bajo"},{"p":"CAAZAPA","d":"2021-11-11","v":1.5,"n":"Bajo"},
{"p":"CANINDEYU","d":"2020-04-01","v":10,"n":"Medio"},{"p":"CANINDEYU","d":"2020-04-11","v":12,"n":"Medio"},{"p":"CANINDEYU","d":"2020-04-21","v":9,"n":"Medio"},{"p":"CANINDEYU","d":"2020-05-01","v":4,"n":"Bajo"},{"p":"CANINDEYU","d":"2020-05-11","v":3,"n":"Bajo"},{"p":"CANINDEYU","d":"2020-05-21","v":3,"n":"Bajo"},{"p":"CANINDEYU","d":"2020-06-01","v":2,"n":"Bajo"},{"p":"CANINDEYU","d":"2020-06-11","v":3,"n":"Bajo"},{"p":"CANINDEYU","d":"2020-06-21","v":4,"n":"Bajo"},{"p":"CANINDEYU","d":"2020-07-01","v":2,"n":"Bajo"},{"p":"CANINDEYU","d":"2020-07-11","v":3,"n":"Bajo"},{"p":"CANINDEYU","d":"2020-07-21","v":2,"n":"Bajo"},{"p":"CANINDEYU","d":"2020-08-01","v":3,"n":"Bajo"},{"p":"CANINDEYU","d":"2020-08-11","v":8,"n":"Medio"},{"p":"CANINDEYU","d":"2020-08-21","v":20,"n":"Alto"},{"p":"CANINDEYU","d":"2020-09-01","v":30,"n":"Alto"},{"p":"CANINDEYU","d":"2020-09-11","v":35,"n":"Alto"},{"p":"CANINDEYU","d":"2020-09-21","v":37,"n":"Alto"},{"p":"CANINDEYU","d":"2020-10-01","v":33,"n":"Alto"},{"p":"CANINDEYU","d":"2020-10-11","v":40,"n":"Alto"},{"p":"CANINDEYU","d":"2020-10-21","v":36,"n":"Alto"},{"p":"CANINDEYU","d":"2020-11-01","v":38,"n":"Alto"},{"p":"CANINDEYU","d":"2020-11-11","v":40,"n":"Alto"},{"p":"CANINDEYU","d":"2020-11-21","v":37,"n":"Alto"},{"p":"CANINDEYU","d":"2020-12-01","v":36,"n":"Alto"},{"p":"CANINDEYU","d":"2020-12-11","v":38,"n":"Alto"},{"p":"CANINDEYU","d":"2020-12-21","v":35,"n":"Alto"},{"p":"CANINDEYU","d":"2021-01-01","v":34,"n":"Alto"},{"p":"CANINDEYU","d":"2021-01-11","v":36,"n":"Alto"},{"p":"CANINDEYU","d":"2021-01-21","v":33,"n":"Alto"},{"p":"CANINDEYU","d":"2021-02-01","v":35,"n":"Alto"},{"p":"CANINDEYU","d":"2021-02-11","v":32,"n":"Alto"},{"p":"CANINDEYU","d":"2021-02-21","v":35,"n":"Alto"},{"p":"CANINDEYU","d":"2021-03-01","v":34,"n":"Alto"},{"p":"CANINDEYU","d":"2021-03-11","v":32,"n":"Alto"},{"p":"CANINDEYU","d":"2021-03-21","v":36,"n":"Alto"},{"p":"CANINDEYU","d":"2021-04-01","v":33,"n":"Alto"},{"p":"CANINDEYU","d":"2021-04-11","v":35,"n":"Alto"},{"p":"CANINDEYU","d":"2021-04-21","v":38,"n":"Alto"},{"p":"CANINDEYU","d":"2021-05-01","v":37,"n":"Alto"},{"p":"CANINDEYU","d":"2021-05-11","v":40,"n":"Alto"},{"p":"CANINDEYU","d":"2021-05-21","v":41,"n":"Alto"},{"p":"CANINDEYU","d":"2021-06-01","v":42,"n":"Alto"},{"p":"CANINDEYU","d":"2021-06-11","v":40,"n":"Alto"},{"p":"CANINDEYU","d":"2021-06-21","v":36,"n":"Alto"},{"p":"CANINDEYU","d":"2021-07-01","v":32,"n":"Alto"},{"p":"CANINDEYU","d":"2021-07-11","v":29,"n":"Alto"},{"p":"CANINDEYU","d":"2021-07-21","v":26,"n":"Alto"},{"p":"CANINDEYU","d":"2021-08-01","v":18,"n":"Alto"},{"p":"CANINDEYU","d":"2021-08-11","v":13,"n":"Medio"},{"p":"CANINDEYU","d":"2021-08-21","v":7,"n":"Medio"},{"p":"CANINDEYU","d":"2021-09-01","v":5,"n":"Medio"},{"p":"CANINDEYU","d":"2021-09-11","v":8,"n":"Medio"},{"p":"CANINDEYU","d":"2021-09-21","v":10,"n":"Medio"},{"p":"CANINDEYU","d":"2021-10-01","v":7,"n":"Medio"},{"p":"CANINDEYU","d":"2021-10-11","v":5,"n":"Medio"},{"p":"CANINDEYU","d":"2021-10-21","v":8,"n":"Medio"},{"p":"CANINDEYU","d":"2021-11-01","v":10,"n":"Medio"},{"p":"CANINDEYU","d":"2021-11-07","v":8.5,"n":"Medio"},
{"p":"CENTRAL","d":"2020-03-21","v":7,"n":"Medio"},{"p":"CENTRAL","d":"2020-04-01","v":7.5,"n":"Medio"},{"p":"CENTRAL","d":"2020-04-11","v":4.5,"n":"Bajo"},{"p":"CENTRAL","d":"2020-04-21","v":3.7,"n":"Bajo"},{"p":"CENTRAL","d":"2020-05-01","v":3.2,"n":"Bajo"},{"p":"CENTRAL","d":"2020-05-11","v":2.7,"n":"Bajo"},{"p":"CENTRAL","d":"2020-05-21","v":2,"n":"Bajo"},{"p":"CENTRAL","d":"2020-06-01","v":1.7,"n":"Bajo"},{"p":"CENTRAL","d":"2020-06-11","v":1.2,"n":"Bajo"},{"p":"CENTRAL","d":"2020-06-21","v":1,"n":"Bajo"},{"p":"CENTRAL","d":"2020-07-01","v":2,"n":"Bajo"},{"p":"CENTRAL","d":"2020-07-11","v":3.5,"n":"Bajo"},{"p":"CENTRAL","d":"2020-07-21","v":5.5,"n":"Medio"},{"p":"CENTRAL","d":"2020-08-01","v":7,"n":"Medio"},{"p":"CENTRAL","d":"2020-08-06","v":9,"n":"Medio"},{"p":"CENTRAL","d":"2020-08-11","v":12,"n":"Medio"},{"p":"CENTRAL","d":"2020-08-16","v":17,"n":"Alto"},{"p":"CENTRAL","d":"2020-08-21","v":21,"n":"Alto"},{"p":"CENTRAL","d":"2020-08-26","v":27,"n":"Alto"},{"p":"CENTRAL","d":"2020-09-01","v":32,"n":"Alto"},{"p":"CENTRAL","d":"2020-09-06","v":36,"n":"Alto"},{"p":"CENTRAL","d":"2020-09-11","v":39,"n":"Alto"},{"p":"CENTRAL","d":"2020-09-16","v":45,"n":"Alto"},{"p":"CENTRAL","d":"2020-09-21","v":42,"n":"Alto"},{"p":"CENTRAL","d":"2020-10-01","v":36,"n":"Alto"},{"p":"CENTRAL","d":"2020-10-06","v":38,"n":"Alto"},{"p":"CENTRAL","d":"2020-10-11","v":40,"n":"Alto"},{"p":"CENTRAL","d":"2020-10-16","v":45,"n":"Alto"},{"p":"CENTRAL","d":"2020-10-19","v":56,"n":"Alto"},{"p":"CENTRAL","d":"2020-10-21","v":50,"n":"Alto"},{"p":"CENTRAL","d":"2020-10-26","v":44,"n":"Alto"},{"p":"CENTRAL","d":"2020-11-01","v":40,"n":"Alto"},{"p":"CENTRAL","d":"2020-11-04","v":35,"n":"Alto"},{"p":"CENTRAL","d":"2020-11-11","v":33,"n":"Alto"},{"p":"CENTRAL","d":"2020-11-14","v":36,"n":"Alto"},{"p":"CENTRAL","d":"2020-11-18","v":45,"n":"Alto"},{"p":"CENTRAL","d":"2020-11-21","v":50,"n":"Alto"},{"p":"CENTRAL","d":"2020-11-24","v":58,"n":"Alto"},{"p":"CENTRAL","d":"2020-11-27","v":63,"n":"Alto"},{"p":"CENTRAL","d":"2020-12-01","v":70,"n":"Alto"},{"p":"CENTRAL","d":"2020-12-04","v":76,"n":"Alto"},{"p":"CENTRAL","d":"2020-12-08","v":70,"n":"Alto"},{"p":"CENTRAL","d":"2020-12-11","v":67,"n":"Alto"},{"p":"CENTRAL","d":"2020-12-16","v":66,"n":"Alto"},{"p":"CENTRAL","d":"2020-12-21","v":68,"n":"Alto"},{"p":"CENTRAL","d":"2020-12-26","v":70,"n":"Alto"},{"p":"CENTRAL","d":"2021-01-01","v":60,"n":"Alto"},{"p":"CENTRAL","d":"2021-01-04","v":52,"n":"Alto"},{"p":"CENTRAL","d":"2021-01-07","v":42,"n":"Alto"},{"p":"CENTRAL","d":"2021-01-11","v":40,"n":"Alto"},{"p":"CENTRAL","d":"2021-01-14","v":50,"n":"Alto"},{"p":"CENTRAL","d":"2021-01-21","v":53,"n":"Alto"},{"p":"CENTRAL","d":"2021-01-26","v":48,"n":"Alto"},{"p":"CENTRAL","d":"2021-02-01","v":51,"n":"Alto"},{"p":"CENTRAL","d":"2021-02-06","v":56,"n":"Alto"},{"p":"CENTRAL","d":"2021-02-11","v":57,"n":"Alto"},{"p":"CENTRAL","d":"2021-02-16","v":63,"n":"Alto"},{"p":"CENTRAL","d":"2021-02-21","v":70,"n":"Alto"},{"p":"CENTRAL","d":"2021-02-26","v":76,"n":"Alto"},{"p":"CENTRAL","d":"2021-03-01","v":65,"n":"Alto"},{"p":"CENTRAL","d":"2021-03-06","v":70,"n":"Alto"},{"p":"CENTRAL","d":"2021-03-11","v":76,"n":"Alto"},{"p":"CENTRAL","d":"2021-03-16","v":84,"n":"Alto"},{"p":"CENTRAL","d":"2021-03-18","v":93,"n":"Alto"},{"p":"CENTRAL","d":"2021-03-21","v":86,"n":"Alto"},{"p":"CENTRAL","d":"2021-03-26","v":81,"n":"Alto"},{"p":"CENTRAL","d":"2021-04-01","v":76,"n":"Alto"},{"p":"CENTRAL","d":"2021-04-06","v":69,"n":"Alto"},{"p":"CENTRAL","d":"2021-04-11","v":70,"n":"Alto"},{"p":"CENTRAL","d":"2021-04-16","v":67,"n":"Alto"},{"p":"CENTRAL","d":"2021-04-21","v":65,"n":"Alto"},{"p":"CENTRAL","d":"2021-04-26","v":63,"n":"Alto"},{"p":"CENTRAL","d":"2021-05-01","v":60,"n":"Alto"},{"p":"CENTRAL","d":"2021-05-06","v":56,"n":"Alto"},{"p":"CENTRAL","d":"2021-05-11","v":53,"n":"Alto"},{"p":"CENTRAL","d":"2021-05-16","v":49,"n":"Alto"},{"p":"CENTRAL","d":"2021-05-21","v":46,"n":"Alto"},{"p":"CENTRAL","d":"2021-06-01","v":42,"n":"Alto"},{"p":"CENTRAL","d":"2021-06-11","v":38,"n":"Alto"},{"p":"CENTRAL","d":"2021-06-21","v":37,"n":"Alto"},{"p":"CENTRAL","d":"2021-07-01","v":36,"n":"Alto"},{"p":"CENTRAL","d":"2021-07-11","v":29,"n":"Alto"},{"p":"CENTRAL","d":"2021-07-16","v":24,"n":"Alto"},{"p":"CENTRAL","d":"2021-07-21","v":19,"n":"Alto"},{"p":"CENTRAL","d":"2021-08-01","v":14,"n":"Medio"},{"p":"CENTRAL","d":"2021-08-11","v":9.5,"n":"Medio"},{"p":"CENTRAL","d":"2021-08-21","v":5.5,"n":"Medio"},{"p":"CENTRAL","d":"2021-09-01","v":3.8,"n":"Bajo"},{"p":"CENTRAL","d":"2021-09-11","v":2.5,"n":"Bajo"},{"p":"CENTRAL","d":"2021-09-21","v":1.7,"n":"Bajo"},{"p":"CENTRAL","d":"2021-10-01","v":1.2,"n":"Bajo"},{"p":"CENTRAL","d":"2021-10-11","v":0.9,"n":"Bajo"},{"p":"CENTRAL","d":"2021-10-21","v":0.6,"n":"Bajo"},{"p":"CENTRAL","d":"2021-11-01","v":0.5,"n":"Bajo"},{"p":"CENTRAL","d":"2021-11-11","v":0.9,"n":"Bajo"},
{"p":"CONCEPCION","d":"2020-04-11","v":2,"n":"Bajo"},{"p":"CONCEPCION","d":"2020-04-21","v":3,"n":"Bajo"},{"p":"CONCEPCION","d":"2020-05-01","v":5,"n":"Medio"},{"p":"CONCEPCION","d":"2020-05-11","v":3,"n":"Bajo"},{"p":"CONCEPCION","d":"2020-05-21","v":4,"n":"Bajo"},{"p":"CONCEPCION","d":"2020-06-01","v":1,"n":"Bajo"},{"p":"CONCEPCION","d":"2020-06-11","v":2,"n":"Bajo"},{"p":"CONCEPCION","d":"2020-06-21","v":6,"n":"Medio"},{"p":"CONCEPCION","d":"2020-07-01","v":2,"n":"Bajo"},{"p":"CONCEPCION","d":"2020-07-11","v":4,"n":"Bajo"},{"p":"CONCEPCION","d":"2020-07-21","v":7,"n":"Medio"},{"p":"CONCEPCION","d":"2020-08-01","v":3,"n":"Bajo"},{"p":"CONCEPCION","d":"2020-08-11","v":9,"n":"Medio"},{"p":"CONCEPCION","d":"2020-08-21","v":20,"n":"Alto"},{"p":"CONCEPCION","d":"2020-08-26","v":35,"n":"Alto"},{"p":"CONCEPCION","d":"2020-09-01","v":42,"n":"Alto"},{"p":"CONCEPCION","d":"2020-09-11","v":38,"n":"Alto"},{"p":"CONCEPCION","d":"2020-09-21","v":37,"n":"Alto"},{"p":"CONCEPCION","d":"2020-10-01","v":33,"n":"Alto"},{"p":"CONCEPCION","d":"2020-10-11","v":30,"n":"Alto"},{"p":"CONCEPCION","d":"2020-10-21","v":27,"n":"Alto"},{"p":"CONCEPCION","d":"2020-11-01","v":25,"n":"Alto"},{"p":"CONCEPCION","d":"2020-11-11","v":24,"n":"Alto"},{"p":"CONCEPCION","d":"2020-11-21","v":26,"n":"Alto"},{"p":"CONCEPCION","d":"2020-12-01","v":24,"n":"Alto"},{"p":"CONCEPCION","d":"2020-12-11","v":25,"n":"Alto"},{"p":"CONCEPCION","d":"2020-12-21","v":24,"n":"Alto"},{"p":"CONCEPCION","d":"2021-01-01","v":24,"n":"Alto"},{"p":"CONCEPCION","d":"2021-01-11","v":25,"n":"Alto"},{"p":"CONCEPCION","d":"2021-01-21","v":26,"n":"Alto"},{"p":"CONCEPCION","d":"2021-02-01","v":28,"n":"Alto"},{"p":"CONCEPCION","d":"2021-02-11","v":33,"n":"Alto"},{"p":"CONCEPCION","d":"2021-02-21","v":36,"n":"Alto"},{"p":"CONCEPCION","d":"2021-03-01","v":36,"n":"Alto"},{"p":"CONCEPCION","d":"2021-03-11","v":37,"n":"Alto"},{"p":"CONCEPCION","d":"2021-03-21","v":36,"n":"Alto"},{"p":"CONCEPCION","d":"2021-04-01","v":38,"n":"Alto"},{"p":"CONCEPCION","d":"2021-04-11","v":37,"n":"Alto"},{"p":"CONCEPCION","d":"2021-04-21","v":40,"n":"Alto"},{"p":"CONCEPCION","d":"2021-05-01","v":39,"n":"Alto"},{"p":"CONCEPCION","d":"2021-05-11","v":41,"n":"Alto"},{"p":"CONCEPCION","d":"2021-05-21","v":42,"n":"Alto"},{"p":"CONCEPCION","d":"2021-06-01","v":44,"n":"Alto"},{"p":"CONCEPCION","d":"2021-06-11","v":46,"n":"Alto"},{"p":"CONCEPCION","d":"2021-06-21","v":43,"n":"Alto"},{"p":"CONCEPCION","d":"2021-07-01","v":41,"n":"Alto"},{"p":"CONCEPCION","d":"2021-07-11","v":38,"n":"Alto"},{"p":"CONCEPCION","d":"2021-07-21","v":36,"n":"Alto"},{"p":"CONCEPCION","d":"2021-08-01","v":32,"n":"Alto"},{"p":"CONCEPCION","d":"2021-08-11","v":27,"n":"Alto"},{"p":"CONCEPCION","d":"2021-08-21","v":20,"n":"Alto"},{"p":"CONCEPCION","d":"2021-09-01","v":12,"n":"Medio"},{"p":"CONCEPCION","d":"2021-09-11","v":6,"n":"Medio"},{"p":"CONCEPCION","d":"2021-09-21","v":3,"n":"Bajo"},{"p":"CONCEPCION","d":"2021-10-01","v":1,"n":"Bajo"},{"p":"CONCEPCION","d":"2021-10-11","v":0,"n":"Bajo"},{"p":"CONCEPCION","d":"2021-10-21","v":2,"n":"Bajo"},{"p":"CONCEPCION","d":"2021-11-01","v":4,"n":"Bajo"},{"p":"CONCEPCION","d":"2021-11-11","v":5,"n":"Medio"},
{"p":"CORDILLERA","d":"2020-04-01","v":1,"n":"Bajo"},{"p":"CORDILLERA","d":"2020-04-11","v":0,"n":"Bajo"},{"p":"CORDILLERA","d":"2020-04-21","v":2,"n":"Bajo"},{"p":"CORDILLERA","d":"2020-05-01","v":3,"n":"Bajo"},{"p":"CORDILLERA","d":"2020-05-11","v":6,"n":"Medio"},{"p":"CORDILLERA","d":"2020-05-21","v":7,"n":"Medio"},{"p":"CORDILLERA","d":"2020-06-01","v":5,"n":"Medio"},{"p":"CORDILLERA","d":"2020-06-11","v":2,"n":"Bajo"},{"p":"CORDILLERA","d":"2020-06-21","v":3,"n":"Bajo"},{"p":"CORDILLERA","d":"2020-07-01","v":2,"n":"Bajo"},{"p":"CORDILLERA","d":"2020-07-11","v":3,"n":"Bajo"},{"p":"CORDILLERA","d":"2020-07-21","v":4,"n":"Bajo"},{"p":"CORDILLERA","d":"2020-08-01","v":8,"n":"Medio"},{"p":"CORDILLERA","d":"2020-08-11","v":14,"n":"Medio"},{"p":"CORDILLERA","d":"2020-08-21","v":24,"n":"Alto"},{"p":"CORDILLERA","d":"2020-09-01","v":22,"n":"Alto"},{"p":"CORDILLERA","d":"2020-09-11","v":26,"n":"Alto"},{"p":"CORDILLERA","d":"2020-09-21","v":23,"n":"Alto"},{"p":"CORDILLERA","d":"2020-10-01","v":24,"n":"Alto"},{"p":"CORDILLERA","d":"2020-10-11","v":27,"n":"Alto"},{"p":"CORDILLERA","d":"2020-10-21","v":25,"n":"Alto"},{"p":"CORDILLERA","d":"2020-11-01","v":28,"n":"Alto"},{"p":"CORDILLERA","d":"2020-11-11","v":31,"n":"Alto"},{"p":"CORDILLERA","d":"2020-11-21","v":29,"n":"Alto"},{"p":"CORDILLERA","d":"2020-12-01","v":27,"n":"Alto"},{"p":"CORDILLERA","d":"2020-12-11","v":26,"n":"Alto"},{"p":"CORDILLERA","d":"2020-12-21","v":28,"n":"Alto"},{"p":"CORDILLERA","d":"2021-01-01","v":27,"n":"Alto"},{"p":"CORDILLERA","d":"2021-01-11","v":26,"n":"Alto"},{"p":"CORDILLERA","d":"2021-01-21","v":25,"n":"Alto"},{"p":"CORDILLERA","d":"2021-02-01","v":24,"n":"Alto"},{"p":"CORDILLERA","d":"2021-02-11","v":26,"n":"Alto"},{"p":"CORDILLERA","d":"2021-02-21","v":30,"n":"Alto"},{"p":"CORDILLERA","d":"2021-03-01","v":33,"n":"Alto"},{"p":"CORDILLERA","d":"2021-03-11","v":35,"n":"Alto"},{"p":"CORDILLERA","d":"2021-03-21","v":37,"n":"Alto"},{"p":"CORDILLERA","d":"2021-04-01","v":38,"n":"Alto"},{"p":"CORDILLERA","d":"2021-04-11","v":37,"n":"Alto"},{"p":"CORDILLERA","d":"2021-04-21","v":39,"n":"Alto"},{"p":"CORDILLERA","d":"2021-05-01","v":40,"n":"Alto"},{"p":"CORDILLERA","d":"2021-05-11","v":42,"n":"Alto"},{"p":"CORDILLERA","d":"2021-05-21","v":41,"n":"Alto"},{"p":"CORDILLERA","d":"2021-06-01","v":42,"n":"Alto"},{"p":"CORDILLERA","d":"2021-06-11","v":41,"n":"Alto"},{"p":"CORDILLERA","d":"2021-06-21","v":39,"n":"Alto"},{"p":"CORDILLERA","d":"2021-07-01","v":36,"n":"Alto"},{"p":"CORDILLERA","d":"2021-07-11","v":31,"n":"Alto"},{"p":"CORDILLERA","d":"2021-07-21","v":26,"n":"Alto"},{"p":"CORDILLERA","d":"2021-08-01","v":21,"n":"Alto"},{"p":"CORDILLERA","d":"2021-08-11","v":16,"n":"Alto"},{"p":"CORDILLERA","d":"2021-08-21","v":10,"n":"Medio"},{"p":"CORDILLERA","d":"2021-09-01","v":5,"n":"Medio"},{"p":"CORDILLERA","d":"2021-09-11","v":2.5,"n":"Bajo"},{"p":"CORDILLERA","d":"2021-09-21","v":1.5,"n":"Bajo"},{"p":"CORDILLERA","d":"2021-10-01","v":1,"n":"Bajo"},{"p":"CORDILLERA","d":"2021-10-11","v":1,"n":"Bajo"},{"p":"CORDILLERA","d":"2021-10-21","v":0.5,"n":"Bajo"},{"p":"CORDILLERA","d":"2021-11-01","v":1,"n":"Bajo"},{"p":"CORDILLERA","d":"2021-11-11","v":1,"n":"Bajo"},
{"p":"GUAIRA","d":"2020-04-11","v":0,"n":"Bajo"},{"p":"GUAIRA","d":"2020-04-21","v":3,"n":"Bajo"},{"p":"GUAIRA","d":"2020-05-01","v":8,"n":"Medio"},{"p":"GUAIRA","d":"2020-05-11","v":15,"n":"Medio"},{"p":"GUAIRA","d":"2020-05-21","v":17,"n":"Alto"},{"p":"GUAIRA","d":"2020-06-01","v":10,"n":"Medio"},{"p":"GUAIRA","d":"2020-06-11","v":4,"n":"Bajo"},{"p":"GUAIRA","d":"2020-06-21","v":3,"n":"Bajo"},{"p":"GUAIRA","d":"2020-07-01","v":4,"n":"Bajo"},{"p":"GUAIRA","d":"2020-07-11","v":3,"n":"Bajo"},{"p":"GUAIRA","d":"2020-07-21","v":3,"n":"Bajo"},{"p":"GUAIRA","d":"2020-08-01","v":5,"n":"Medio"},{"p":"GUAIRA","d":"2020-08-11","v":10,"n":"Medio"},{"p":"GUAIRA","d":"2020-08-21","v":16,"n":"Alto"},{"p":"GUAIRA","d":"2020-09-01","v":22,"n":"Alto"},{"p":"GUAIRA","d":"2020-09-11","v":28,"n":"Alto"},{"p":"GUAIRA","d":"2020-09-21","v":33,"n":"Alto"},{"p":"GUAIRA","d":"2020-10-01","v":38,"n":"Alto"},{"p":"GUAIRA","d":"2020-10-11","v":42,"n":"Alto"},{"p":"GUAIRA","d":"2020-10-21","v":37,"n":"Alto"},{"p":"GUAIRA","d":"2020-11-01","v":30,"n":"Alto"},{"p":"GUAIRA","d":"2020-11-11","v":25,"n":"Alto"},{"p":"GUAIRA","d":"2020-11-21","v":24,"n":"Alto"},{"p":"GUAIRA","d":"2020-12-01","v":23,"n":"Alto"},{"p":"GUAIRA","d":"2020-12-11","v":25,"n":"Alto"},{"p":"GUAIRA","d":"2020-12-21","v":26,"n":"Alto"},{"p":"GUAIRA","d":"2021-01-01","v":24,"n":"Alto"},{"p":"GUAIRA","d":"2021-01-11","v":28,"n":"Alto"},{"p":"GUAIRA","d":"2021-01-21","v":32,"n":"Alto"},{"p":"GUAIRA","d":"2021-02-01","v":35,"n":"Alto"},{"p":"GUAIRA","d":"2021-02-11","v":33,"n":"Alto"},{"p":"GUAIRA","d":"2021-02-21","v":36,"n":"Alto"},{"p":"GUAIRA","d":"2021-03-01","v":37,"n":"Alto"},{"p":"GUAIRA","d":"2021-03-11","v":36,"n":"Alto"},{"p":"GUAIRA","d":"2021-03-21","v":40,"n":"Alto"},{"p":"GUAIRA","d":"2021-04-01","v":38,"n":"Alto"},{"p":"GUAIRA","d":"2021-04-11","v":42,"n":"Alto"},{"p":"GUAIRA","d":"2021-04-21","v":45,"n":"Alto"},{"p":"GUAIRA","d":"2021-05-01","v":44,"n":"Alto"},{"p":"GUAIRA","d":"2021-05-11","v":47,"n":"Alto"},{"p":"GUAIRA","d":"2021-05-21","v":46,"n":"Alto"},{"p":"GUAIRA","d":"2021-06-01","v":49,"n":"Alto"},{"p":"GUAIRA","d":"2021-06-11","v":48,"n":"Alto"},{"p":"GUAIRA","d":"2021-06-21","v":50,"n":"Alto"},{"p":"GUAIRA","d":"2021-07-01","v":51,"n":"Alto"},{"p":"GUAIRA","d":"2021-07-11","v":50,"n":"Alto"},{"p":"GUAIRA","d":"2021-07-21","v":45,"n":"Alto"},{"p":"GUAIRA","d":"2021-08-01","v":36,"n":"Alto"},{"p":"GUAIRA","d":"2021-08-11","v":28,"n":"Alto"},{"p":"GUAIRA","d":"2021-08-21","v":18,"n":"Alto"},{"p":"GUAIRA","d":"2021-09-01","v":9,"n":"Medio"},{"p":"GUAIRA","d":"2021-09-11","v":4,"n":"Bajo"},{"p":"GUAIRA","d":"2021-09-21","v":3,"n":"Bajo"},{"p":"GUAIRA","d":"2021-10-01","v":4,"n":"Bajo"},{"p":"GUAIRA","d":"2021-10-11","v":5,"n":"Medio"},{"p":"GUAIRA","d":"2021-10-21","v":3,"n":"Bajo"},{"p":"GUAIRA","d":"2021-11-01","v":3,"n":"Bajo"},{"p":"GUAIRA","d":"2021-11-11","v":4,"n":"Bajo"},
{"p":"ITAPUA","d":"2020-04-11","v":2,"n":"Bajo"},{"p":"ITAPUA","d":"2020-04-21","v":6,"n":"Medio"},{"p":"ITAPUA","d":"2020-05-01","v":10,"n":"Medio"},{"p":"ITAPUA","d":"2020-05-11","v":10,"n":"Medio"},{"p":"ITAPUA","d":"2020-05-21","v":8,"n":"Medio"},{"p":"ITAPUA","d":"2020-06-01","v":4,"n":"Bajo"},{"p":"ITAPUA","d":"2020-06-11","v":3,"n":"Bajo"},{"p":"ITAPUA","d":"2020-06-21","v":2,"n":"Bajo"},{"p":"ITAPUA","d":"2020-07-01","v":2,"n":"Bajo"},{"p":"ITAPUA","d":"2020-07-11","v":3,"n":"Bajo"},{"p":"ITAPUA","d":"2020-07-21","v":2,"n":"Bajo"},{"p":"ITAPUA","d":"2020-08-01","v":4,"n":"Bajo"},{"p":"ITAPUA","d":"2020-08-11","v":9,"n":"Medio"},{"p":"ITAPUA","d":"2020-08-21","v":18,"n":"Alto"},{"p":"ITAPUA","d":"2020-09-01","v":24,"n":"Alto"},{"p":"ITAPUA","d":"2020-09-11","v":28,"n":"Alto"},{"p":"ITAPUA","d":"2020-09-21","v":30,"n":"Alto"},{"p":"ITAPUA","d":"2020-10-01","v":32,"n":"Alto"},{"p":"ITAPUA","d":"2020-10-11","v":30,"n":"Alto"},{"p":"ITAPUA","d":"2020-10-21","v":28,"n":"Alto"},{"p":"ITAPUA","d":"2020-11-01","v":26,"n":"Alto"},{"p":"ITAPUA","d":"2020-11-11","v":24,"n":"Alto"},{"p":"ITAPUA","d":"2020-11-21","v":22,"n":"Alto"},{"p":"ITAPUA","d":"2020-12-01","v":23,"n":"Alto"},{"p":"ITAPUA","d":"2020-12-11","v":24,"n":"Alto"},{"p":"ITAPUA","d":"2020-12-21","v":26,"n":"Alto"},{"p":"ITAPUA","d":"2021-01-01","v":28,"n":"Alto"},{"p":"ITAPUA","d":"2021-01-11","v":30,"n":"Alto"},{"p":"ITAPUA","d":"2021-01-21","v":32,"n":"Alto"},{"p":"ITAPUA","d":"2021-02-01","v":34,"n":"Alto"},{"p":"ITAPUA","d":"2021-02-11","v":35,"n":"Alto"},{"p":"ITAPUA","d":"2021-02-21","v":37,"n":"Alto"},{"p":"ITAPUA","d":"2021-03-01","v":38,"n":"Alto"},{"p":"ITAPUA","d":"2021-03-11","v":41,"n":"Alto"},{"p":"ITAPUA","d":"2021-03-21","v":44,"n":"Alto"},{"p":"ITAPUA","d":"2021-04-01","v":46,"n":"Alto"},{"p":"ITAPUA","d":"2021-04-11","v":47,"n":"Alto"},{"p":"ITAPUA","d":"2021-04-21","v":48,"n":"Alto"},{"p":"ITAPUA","d":"2021-05-01","v":49,"n":"Alto"},{"p":"ITAPUA","d":"2021-05-11","v":50,"n":"Alto"},{"p":"ITAPUA","d":"2021-05-21","v":51,"n":"Alto"},{"p":"ITAPUA","d":"2021-06-01","v":49,"n":"Alto"},{"p":"ITAPUA","d":"2021-06-11","v":47,"n":"Alto"},{"p":"ITAPUA","d":"2021-06-21","v":46,"n":"Alto"},{"p":"ITAPUA","d":"2021-07-01","v":44,"n":"Alto"},{"p":"ITAPUA","d":"2021-07-11","v":40,"n":"Alto"},{"p":"ITAPUA","d":"2021-07-21","v":34,"n":"Alto"},{"p":"ITAPUA","d":"2021-08-01","v":26,"n":"Alto"},{"p":"ITAPUA","d":"2021-08-11","v":17,"n":"Alto"},{"p":"ITAPUA","d":"2021-08-21","v":10,"n":"Medio"},{"p":"ITAPUA","d":"2021-09-01","v":5,"n":"Medio"},{"p":"ITAPUA","d":"2021-09-11","v":2,"n":"Bajo"},{"p":"ITAPUA","d":"2021-09-21","v":1,"n":"Bajo"},{"p":"ITAPUA","d":"2021-10-01","v":1,"n":"Bajo"},{"p":"ITAPUA","d":"2021-10-11","v":2,"n":"Bajo"},{"p":"ITAPUA","d":"2021-10-21","v":3,"n":"Bajo"},{"p":"ITAPUA","d":"2021-11-01","v":3,"n":"Bajo"},{"p":"ITAPUA","d":"2021-11-11","v":3,"n":"Bajo"},
{"p":"MISIONES","d":"2020-04-11","v":19,"n":"Alto"},{"p":"MISIONES","d":"2020-04-15","v":26,"n":"Alto"},{"p":"MISIONES","d":"2020-04-18","v":31,"n":"Alto"},{"p":"MISIONES","d":"2020-04-21","v":27,"n":"Alto"},{"p":"MISIONES","d":"2020-04-26","v":17,"n":"Alto"},{"p":"MISIONES","d":"2020-05-01","v":11,"n":"Medio"},{"p":"MISIONES","d":"2020-05-04","v":6,"n":"Medio"},{"p":"MISIONES","d":"2020-05-11","v":2,"n":"Bajo"},{"p":"MISIONES","d":"2020-05-21","v":0,"n":"Bajo"},{"p":"MISIONES","d":"2020-06-01","v":0,"n":"Bajo"},{"p":"MISIONES","d":"2020-06-11","v":0.5,"n":"Bajo"},{"p":"MISIONES","d":"2020-06-21","v":3,"n":"Bajo"},{"p":"MISIONES","d":"2020-07-01","v":6,"n":"Medio"},{"p":"MISIONES","d":"2020-07-11","v":6,"n":"Medio"},{"p":"MISIONES","d":"2020-07-21","v":4,"n":"Bajo"},{"p":"MISIONES","d":"2020-08-01","v":1.5,"n":"Bajo"},{"p":"MISIONES","d":"2020-08-11","v":2,"n":"Bajo"},{"p":"MISIONES","d":"2020-08-21","v":4,"n":"Bajo"},{"p":"MISIONES","d":"2020-08-26","v":11,"n":"Medio"},{"p":"MISIONES","d":"2020-09-01","v":21,"n":"Alto"},{"p":"MISIONES","d":"2020-09-11","v":25,"n":"Alto"},{"p":"MISIONES","d":"2020-09-21","v":21,"n":"Alto"},{"p":"MISIONES","d":"2020-10-01","v":14,"n":"Medio"},{"p":"MISIONES","d":"2020-10-11","v":15,"n":"Medio"},{"p":"MISIONES","d":"2020-10-21","v":15,"n":"Medio"},{"p":"MISIONES","d":"2020-11-01","v":23,"n":"Alto"},{"p":"MISIONES","d":"2020-11-11","v":22,"n":"Alto"},{"p":"MISIONES","d":"2020-11-21","v":22,"n":"Alto"},{"p":"MISIONES","d":"2020-12-01","v":19,"n":"Alto"},{"p":"MISIONES","d":"2020-12-11","v":18,"n":"Alto"},{"p":"MISIONES","d":"2020-12-21","v":21,"n":"Alto"},{"p":"MISIONES","d":"2021-01-01","v":24,"n":"Alto"},{"p":"MISIONES","d":"2021-01-11","v":23,"n":"Alto"},{"p":"MISIONES","d":"2021-01-21","v":21,"n":"Alto"},{"p":"MISIONES","d":"2021-02-01","v":22.5,"n":"Alto"},{"p":"MISIONES","d":"2021-02-11","v":27,"n":"Alto"},{"p":"MISIONES","d":"2021-02-21","v":30,"n":"Alto"},{"p":"MISIONES","d":"2021-03-01","v":32,"n":"Alto"},{"p":"MISIONES","d":"2021-03-11","v":33,"n":"Alto"},{"p":"MISIONES","d":"2021-03-21","v":33,"n":"Alto"},{"p":"MISIONES","d":"2021-04-01","v":35.5,"n":"Alto"},{"p":"MISIONES","d":"2021-04-11","v":35.5,"n":"Alto"},{"p":"MISIONES","d":"2021-04-21","v":35,"n":"Alto"},{"p":"MISIONES","d":"2021-05-01","v":34.7,"n":"Alto"},{"p":"MISIONES","d":"2021-05-11","v":35,"n":"Alto"},{"p":"MISIONES","d":"2021-05-21","v":38,"n":"Alto"},{"p":"MISIONES","d":"2021-06-01","v":41,"n":"Alto"},{"p":"MISIONES","d":"2021-06-11","v":38,"n":"Alto"},{"p":"MISIONES","d":"2021-06-21","v":37.5,"n":"Alto"},{"p":"MISIONES","d":"2021-07-01","v":36,"n":"Alto"},{"p":"MISIONES","d":"2021-07-11","v":32,"n":"Alto"},{"p":"MISIONES","d":"2021-07-21","v":27,"n":"Alto"},{"p":"MISIONES","d":"2021-08-01","v":21,"n":"Alto"},{"p":"MISIONES","d":"2021-08-11","v":18,"n":"Alto"},{"p":"MISIONES","d":"2021-08-21","v":12,"n":"Medio"},{"p":"MISIONES","d":"2021-09-01","v":6,"n":"Medio"},{"p":"MISIONES","d":"2021-09-11","v":2,"n":"Bajo"},{"p":"MISIONES","d":"2021-09-21","v":0.5,"n":"Bajo"},{"p":"MISIONES","d":"2021-10-01","v":0.5,"n":"Bajo"},{"p":"MISIONES","d":"2021-10-11","v":1,"n":"Bajo"},{"p":"MISIONES","d":"2021-10-21","v":2,"n":"Bajo"},{"p":"MISIONES","d":"2021-11-01","v":3.8,"n":"Bajo"},{"p":"MISIONES","d":"2021-11-11","v":2,"n":"Bajo"},
{"p":"ÑEEMBUCU","d":"2020-04-11","v":6,"n":"Medio"},{"p":"ÑEEMBUCU","d":"2020-04-21","v":2,"n":"Bajo"},{"p":"ÑEEMBUCU","d":"2020-05-01","v":0.5,"n":"Bajo"},{"p":"ÑEEMBUCU","d":"2020-05-11","v":0,"n":"Bajo"},{"p":"ÑEEMBUCU","d":"2020-05-21","v":0,"n":"Bajo"},{"p":"ÑEEMBUCU","d":"2020-06-01","v":0,"n":"Bajo"},{"p":"ÑEEMBUCU","d":"2020-06-11","v":0,"n":"Bajo"},{"p":"ÑEEMBUCU","d":"2020-06-21","v":0,"n":"Bajo"},{"p":"ÑEEMBUCU","d":"2020-07-01","v":2.5,"n":"Bajo"},{"p":"ÑEEMBUCU","d":"2020-07-11","v":1.5,"n":"Bajo"},{"p":"ÑEEMBUCU","d":"2020-07-21","v":0.5,"n":"Bajo"},{"p":"ÑEEMBUCU","d":"2020-08-01","v":1.5,"n":"Bajo"},{"p":"ÑEEMBUCU","d":"2020-08-11","v":2.6,"n":"Bajo"},{"p":"ÑEEMBUCU","d":"2020-08-21","v":10,"n":"Medio"},{"p":"ÑEEMBUCU","d":"2020-09-01","v":13,"n":"Medio"},{"p":"ÑEEMBUCU","d":"2020-09-06","v":20,"n":"Alto"},{"p":"ÑEEMBUCU","d":"2020-09-11","v":16,"n":"Alto"},{"p":"ÑEEMBUCU","d":"2020-09-21","v":15,"n":"Medio"},{"p":"ÑEEMBUCU","d":"2020-10-01","v":15.5,"n":"Alto"},{"p":"ÑEEMBUCU","d":"2020-10-11","v":19,"n":"Alto"},{"p":"ÑEEMBUCU","d":"2020-10-21","v":22,"n":"Alto"},{"p":"ÑEEMBUCU","d":"2020-11-01","v":23,"n":"Alto"},{"p":"ÑEEMBUCU","d":"2020-11-11","v":24.5,"n":"Alto"},{"p":"ÑEEMBUCU","d":"2020-11-21","v":27,"n":"Alto"},{"p":"ÑEEMBUCU","d":"2020-12-01","v":31,"n":"Alto"},{"p":"ÑEEMBUCU","d":"2020-12-11","v":34,"n":"Alto"},{"p":"ÑEEMBUCU","d":"2020-12-21","v":30,"n":"Alto"},{"p":"ÑEEMBUCU","d":"2021-01-01","v":25,"n":"Alto"},{"p":"ÑEEMBUCU","d":"2021-01-11","v":22,"n":"Alto"},{"p":"ÑEEMBUCU","d":"2021-01-21","v":23,"n":"Alto"},{"p":"ÑEEMBUCU","d":"2021-02-01","v":28,"n":"Alto"},{"p":"ÑEEMBUCU","d":"2021-02-11","v":34,"n":"Alto"},{"p":"ÑEEMBUCU","d":"2021-02-21","v":34,"n":"Alto"},{"p":"ÑEEMBUCU","d":"2021-03-01","v":32,"n":"Alto"},{"p":"ÑEEMBUCU","d":"2021-03-11","v":29,"n":"Alto"},{"p":"ÑEEMBUCU","d":"2021-03-21","v":35,"n":"Alto"},{"p":"ÑEEMBUCU","d":"2021-04-01","v":42,"n":"Alto"},{"p":"ÑEEMBUCU","d":"2021-04-11","v":42,"n":"Alto"},{"p":"ÑEEMBUCU","d":"2021-04-21","v":40,"n":"Alto"},{"p":"ÑEEMBUCU","d":"2021-05-01","v":43,"n":"Alto"},{"p":"ÑEEMBUCU","d":"2021-05-11","v":40.7,"n":"Alto"},{"p":"ÑEEMBUCU","d":"2021-05-21","v":47,"n":"Alto"},{"p":"ÑEEMBUCU","d":"2021-06-01","v":46,"n":"Alto"},{"p":"ÑEEMBUCU","d":"2021-06-11","v":42,"n":"Alto"},{"p":"ÑEEMBUCU","d":"2021-06-21","v":39,"n":"Alto"},{"p":"ÑEEMBUCU","d":"2021-07-01","v":37,"n":"Alto"},{"p":"ÑEEMBUCU","d":"2021-07-11","v":36,"n":"Alto"},{"p":"ÑEEMBUCU","d":"2021-07-21","v":29,"n":"Alto"},{"p":"ÑEEMBUCU","d":"2021-08-01","v":18,"n":"Alto"},{"p":"ÑEEMBUCU","d":"2021-08-11","v":14,"n":"Medio"},{"p":"ÑEEMBUCU","d":"2021-08-21","v":7,"n":"Medio"},{"p":"ÑEEMBUCU","d":"2021-09-01","v":4.5,"n":"Bajo"},{"p":"ÑEEMBUCU","d":"2021-09-11","v":1,"n":"Bajo"},{"p":"ÑEEMBUCU","d":"2021-09-21","v":0.2,"n":"Bajo"},{"p":"ÑEEMBUCU","d":"2021-10-01","v":0,"n":"Bajo"},{"p":"ÑEEMBUCU","d":"2021-10-11","v":0.3,"n":"Bajo"},{"p":"ÑEEMBUCU","d":"2021-10-21","v":4,"n":"Bajo"},{"p":"ÑEEMBUCU","d":"2021-11-01","v":2,"n":"Bajo"},{"p":"ÑEEMBUCU","d":"2021-11-11","v":1.2,"n":"Bajo"},
{"p":"PARAGUARI","d":"2020-04-01","v":0,"n":"Bajo"},{"p":"PARAGUARI","d":"2020-04-11","v":0.5,"n":"Bajo"},{"p":"PARAGUARI","d":"2020-04-21","v":4,"n":"Bajo"},{"p":"PARAGUARI","d":"2020-05-01","v":7,"n":"Medio"},{"p":"PARAGUARI","d":"2020-05-11","v":9,"n":"Medio"},{"p":"PARAGUARI","d":"2020-05-21","v":12,"n":"Medio"},{"p":"PARAGUARI","d":"2020-05-25","v":14,"n":"Medio"},{"p":"PARAGUARI","d":"2020-05-28","v":16,"n":"Alto"},{"p":"PARAGUARI","d":"2020-06-01","v":10,"n":"Medio"},{"p":"PARAGUARI","d":"2020-06-11","v":9.5,"n":"Medio"},{"p":"PARAGUARI","d":"2020-06-21","v":5,"n":"Medio"},{"p":"PARAGUARI","d":"2020-07-01","v":3.5,"n":"Bajo"},{"p":"PARAGUARI","d":"2020-07-11","v":4,"n":"Bajo"},{"p":"PARAGUARI","d":"2020-07-21","v":3,"n":"Bajo"},{"p":"PARAGUARI","d":"2020-08-01","v":2,"n":"Bajo"},{"p":"PARAGUARI","d":"2020-08-11","v":3.5,"n":"Bajo"},{"p":"PARAGUARI","d":"2020-08-21","v":11,"n":"Medio"},{"p":"PARAGUARI","d":"2020-08-27","v":18,"n":"Alto"},{"p":"PARAGUARI","d":"2020-09-01","v":21,"n":"Alto"},{"p":"PARAGUARI","d":"2020-09-11","v":22,"n":"Alto"},{"p":"PARAGUARI","d":"2020-09-21","v":22.5,"n":"Alto"},{"p":"PARAGUARI","d":"2020-10-01","v":20.5,"n":"Alto"},{"p":"PARAGUARI","d":"2020-10-11","v":19,"n":"Alto"},{"p":"PARAGUARI","d":"2020-10-21","v":18,"n":"Alto"},{"p":"PARAGUARI","d":"2020-11-01","v":18,"n":"Alto"},{"p":"PARAGUARI","d":"2020-11-11","v":19,"n":"Alto"},{"p":"PARAGUARI","d":"2020-11-21","v":22,"n":"Alto"},{"p":"PARAGUARI","d":"2020-12-01","v":32,"n":"Alto"},{"p":"PARAGUARI","d":"2020-12-11","v":27,"n":"Alto"},{"p":"PARAGUARI","d":"2020-12-21","v":28,"n":"Alto"},{"p":"PARAGUARI","d":"2021-01-01","v":26,"n":"Alto"},{"p":"PARAGUARI","d":"2021-01-11","v":22,"n":"Alto"},{"p":"PARAGUARI","d":"2021-01-21","v":20,"n":"Alto"},{"p":"PARAGUARI","d":"2021-02-01","v":22.5,"n":"Alto"},{"p":"PARAGUARI","d":"2021-02-11","v":20,"n":"Alto"},{"p":"PARAGUARI","d":"2021-02-21","v":26,"n":"Alto"},{"p":"PARAGUARI","d":"2021-03-01","v":28,"n":"Alto"},{"p":"PARAGUARI","d":"2021-03-11","v":32,"n":"Alto"},{"p":"PARAGUARI","d":"2021-03-21","v":40,"n":"Alto"},{"p":"PARAGUARI","d":"2021-04-01","v":44,"n":"Alto"},{"p":"PARAGUARI","d":"2021-04-11","v":45,"n":"Alto"},{"p":"PARAGUARI","d":"2021-04-21","v":43,"n":"Alto"},{"p":"PARAGUARI","d":"2021-05-01","v":44,"n":"Alto"},{"p":"PARAGUARI","d":"2021-05-11","v":44.5,"n":"Alto"},{"p":"PARAGUARI","d":"2021-05-21","v":46,"n":"Alto"},{"p":"PARAGUARI","d":"2021-06-01","v":43,"n":"Alto"},{"p":"PARAGUARI","d":"2021-06-11","v":39,"n":"Alto"},{"p":"PARAGUARI","d":"2021-06-21","v":36,"n":"Alto"},{"p":"PARAGUARI","d":"2021-07-01","v":33,"n":"Alto"},{"p":"PARAGUARI","d":"2021-07-11","v":28,"n":"Alto"},{"p":"PARAGUARI","d":"2021-07-21","v":21,"n":"Alto"},{"p":"PARAGUARI","d":"2021-08-01","v":15,"n":"Medio"},{"p":"PARAGUARI","d":"2021-08-11","v":10,"n":"Medio"},{"p":"PARAGUARI","d":"2021-08-21","v":5,"n":"Medio"},{"p":"PARAGUARI","d":"2021-09-01","v":2.5,"n":"Bajo"},{"p":"PARAGUARI","d":"2021-09-11","v":1.5,"n":"Bajo"},{"p":"PARAGUARI","d":"2021-09-21","v":0.8,"n":"Bajo"},{"p":"PARAGUARI","d":"2021-10-01","v":0.5,"n":"Bajo"},{"p":"PARAGUARI","d":"2021-10-11","v":0.9,"n":"Bajo"},{"p":"PARAGUARI","d":"2021-10-21","v":1.3,"n":"Bajo"},{"p":"PARAGUARI","d":"2021-11-01","v":1.7,"n":"Bajo"},{"p":"PARAGUARI","d":"2021-11-11","v":1.2,"n":"Bajo"},
{"p":"PTE. HAYES","d":"2020-04-11","v":0,"n":"Bajo"},{"p":"PTE. HAYES","d":"2020-04-21","v":0,"n":"Bajo"},{"p":"PTE. HAYES","d":"2020-05-01","v":0,"n":"Bajo"},{"p":"PTE. HAYES","d":"2020-05-11","v":0.5,"n":"Bajo"},{"p":"PTE. HAYES","d":"2020-05-21","v":1,"n":"Bajo"},{"p":"PTE. HAYES","d":"2020-06-01","v":1,"n":"Bajo"},{"p":"PTE. HAYES","d":"2020-06-11","v":1.5,"n":"Bajo"},{"p":"PTE. HAYES","d":"2020-06-21","v":2,"n":"Bajo"},{"p":"PTE. HAYES","d":"2020-07-01","v":2,"n":"Bajo"},{"p":"PTE. HAYES","d":"2020-07-11","v":3,"n":"Bajo"},{"p":"PTE. HAYES","d":"2020-07-21","v":6,"n":"Medio"},{"p":"PTE. HAYES","d":"2020-08-01","v":13,"n":"Medio"},{"p":"PTE. HAYES","d":"2020-08-11","v":17,"n":"Alto"},{"p":"PTE. HAYES","d":"2020-08-21","v":20,"n":"Alto"},{"p":"PTE. HAYES","d":"2020-09-01","v":24,"n":"Alto"},{"p":"PTE. HAYES","d":"2020-09-11","v":26,"n":"Alto"},{"p":"PTE. HAYES","d":"2020-09-21","v":25,"n":"Alto"},{"p":"PTE. HAYES","d":"2020-10-01","v":28,"n":"Alto"},{"p":"PTE. HAYES","d":"2020-10-11","v":26,"n":"Alto"},{"p":"PTE. HAYES","d":"2020-10-21","v":24,"n":"Alto"},{"p":"PTE. HAYES","d":"2020-11-01","v":27,"n":"Alto"},{"p":"PTE. HAYES","d":"2020-11-11","v":23,"n":"Alto"},{"p":"PTE. HAYES","d":"2020-11-21","v":26,"n":"Alto"},{"p":"PTE. HAYES","d":"2020-12-01","v":22,"n":"Alto"},{"p":"PTE. HAYES","d":"2020-12-11","v":20,"n":"Alto"},{"p":"PTE. HAYES","d":"2020-12-21","v":23,"n":"Alto"},{"p":"PTE. HAYES","d":"2021-01-01","v":26,"n":"Alto"},{"p":"PTE. HAYES","d":"2021-01-11","v":24,"n":"Alto"},{"p":"PTE. HAYES","d":"2021-01-21","v":20,"n":"Alto"},{"p":"PTE. HAYES","d":"2021-02-01","v":22,"n":"Alto"},{"p":"PTE. HAYES","d":"2021-02-11","v":27,"n":"Alto"},{"p":"PTE. HAYES","d":"2021-02-21","v":32,"n":"Alto"},{"p":"PTE. HAYES","d":"2021-03-01","v":36,"n":"Alto"},{"p":"PTE. HAYES","d":"2021-03-11","v":40,"n":"Alto"},{"p":"PTE. HAYES","d":"2021-03-21","v":38,"n":"Alto"},{"p":"PTE. HAYES","d":"2021-04-01","v":41,"n":"Alto"},{"p":"PTE. HAYES","d":"2021-04-11","v":38,"n":"Alto"},{"p":"PTE. HAYES","d":"2021-04-21","v":39,"n":"Alto"},{"p":"PTE. HAYES","d":"2021-05-01","v":37,"n":"Alto"},{"p":"PTE. HAYES","d":"2021-05-11","v":34,"n":"Alto"},{"p":"PTE. HAYES","d":"2021-05-21","v":30,"n":"Alto"},{"p":"PTE. HAYES","d":"2021-06-01","v":25,"n":"Alto"},{"p":"PTE. HAYES","d":"2021-06-11","v":20,"n":"Alto"},{"p":"PTE. HAYES","d":"2021-06-21","v":14,"n":"Medio"},{"p":"PTE. HAYES","d":"2021-07-01","v":8,"n":"Medio"},{"p":"PTE. HAYES","d":"2021-07-11","v":4,"n":"Bajo"},{"p":"PTE. HAYES","d":"2021-07-21","v":3,"n":"Bajo"},{"p":"PTE. HAYES","d":"2021-08-01","v":4,"n":"Bajo"},{"p":"PTE. HAYES","d":"2021-08-11","v":3,"n":"Bajo"},{"p":"PTE. HAYES","d":"2021-08-21","v":2,"n":"Bajo"},{"p":"PTE. HAYES","d":"2021-09-01","v":4,"n":"Bajo"},{"p":"PTE. HAYES","d":"2021-09-11","v":3,"n":"Bajo"},{"p":"PTE. HAYES","d":"2021-09-21","v":2,"n":"Bajo"},{"p":"PTE. HAYES","d":"2021-10-01","v":1,"n":"Bajo"},{"p":"PTE. HAYES","d":"2021-10-11","v":1,"n":"Bajo"},{"p":"PTE. HAYES","d":"2021-10-21","v":0.5,"n":"Bajo"},{"p":"PTE. HAYES","d":"2021-11-01","v":0,"n":"Bajo"},{"p":"PTE. HAYES","d":"2021-11-11","v":0,"n":"Bajo"},
{"p":"SAN PEDRO","d":"2020-04-01","v":0,"n":"Bajo"},{"p":"SAN PEDRO","d":"2020-04-11","v":0,"n":"Bajo"},{"p":"SAN PEDRO","d":"2020-04-21","v":0,"n":"Bajo"},{"p":"SAN PEDRO","d":"2020-04-26","v":2,"n":"Bajo"},{"p":"SAN PEDRO","d":"2020-05-01","v":10,"n":"Medio"},{"p":"SAN PEDRO","d":"2020-05-11","v":15,"n":"Medio"},{"p":"SAN PEDRO","d":"2020-05-21","v":17,"n":"Alto"},{"p":"SAN PEDRO","d":"2020-06-01","v":17,"n":"Alto"},{"p":"SAN PEDRO","d":"2020-06-11","v":13,"n":"Medio"},{"p":"SAN PEDRO","d":"2020-06-21","v":5,"n":"Medio"},{"p":"SAN PEDRO","d":"2020-07-01","v":3,"n":"Bajo"},{"p":"SAN PEDRO","d":"2020-07-11","v":3,"n":"Bajo"},{"p":"SAN PEDRO","d":"2020-07-21","v":8,"n":"Medio"},{"p":"SAN PEDRO","d":"2020-08-01","v":10,"n":"Medio"},{"p":"SAN PEDRO","d":"2020-08-11","v":11,"n":"Medio"},{"p":"SAN PEDRO","d":"2020-08-21","v":15,"n":"Medio"},{"p":"SAN PEDRO","d":"2020-09-01","v":21,"n":"Alto"},{"p":"SAN PEDRO","d":"2020-09-11","v":23,"n":"Alto"},{"p":"SAN PEDRO","d":"2020-09-21","v":22.5,"n":"Alto"},{"p":"SAN PEDRO","d":"2020-10-01","v":22.5,"n":"Alto"},{"p":"SAN PEDRO","d":"2020-10-11","v":24,"n":"Alto"},{"p":"SAN PEDRO","d":"2020-10-21","v":23,"n":"Alto"},{"p":"SAN PEDRO","d":"2020-11-01","v":20,"n":"Alto"},{"p":"SAN PEDRO","d":"2020-11-11","v":18,"n":"Alto"},{"p":"SAN PEDRO","d":"2020-11-21","v":22,"n":"Alto"},{"p":"SAN PEDRO","d":"2020-12-01","v":26,"n":"Alto"},{"p":"SAN PEDRO","d":"2020-12-11","v":23,"n":"Alto"},{"p":"SAN PEDRO","d":"2020-12-21","v":23,"n":"Alto"},{"p":"SAN PEDRO","d":"2021-01-01","v":25,"n":"Alto"},{"p":"SAN PEDRO","d":"2021-01-11","v":32,"n":"Alto"},{"p":"SAN PEDRO","d":"2021-01-21","v":34,"n":"Alto"},{"p":"SAN PEDRO","d":"2021-02-01","v":30,"n":"Alto"},{"p":"SAN PEDRO","d":"2021-02-11","v":27,"n":"Alto"},{"p":"SAN PEDRO","d":"2021-02-21","v":33,"n":"Alto"},{"p":"SAN PEDRO","d":"2021-03-01","v":39,"n":"Alto"},{"p":"SAN PEDRO","d":"2021-03-11","v":37,"n":"Alto"},{"p":"SAN PEDRO","d":"2021-03-21","v":43,"n":"Alto"},{"p":"SAN PEDRO","d":"2021-04-01","v":45,"n":"Alto"},{"p":"SAN PEDRO","d":"2021-04-11","v":45,"n":"Alto"},{"p":"SAN PEDRO","d":"2021-04-21","v":42,"n":"Alto"},{"p":"SAN PEDRO","d":"2021-05-01","v":47,"n":"Alto"},{"p":"SAN PEDRO","d":"2021-05-11","v":49,"n":"Alto"},{"p":"SAN PEDRO","d":"2021-05-21","v":51,"n":"Alto"},{"p":"SAN PEDRO","d":"2021-06-01","v":49,"n":"Alto"},{"p":"SAN PEDRO","d":"2021-06-11","v":49,"n":"Alto"},{"p":"SAN PEDRO","d":"2021-06-21","v":45,"n":"Alto"},{"p":"SAN PEDRO","d":"2021-07-01","v":43,"n":"Alto"},{"p":"SAN PEDRO","d":"2021-07-11","v":40,"n":"Alto"},{"p":"SAN PEDRO","d":"2021-07-21","v":30,"n":"Alto"},{"p":"SAN PEDRO","d":"2021-08-01","v":21,"n":"Alto"},{"p":"SAN PEDRO","d":"2021-08-11","v":16,"n":"Alto"},{"p":"SAN PEDRO","d":"2021-08-21","v":11,"n":"Medio"},{"p":"SAN PEDRO","d":"2021-09-01","v":6,"n":"Medio"},{"p":"SAN PEDRO","d":"2021-09-11","v":3.5,"n":"Bajo"},{"p":"SAN PEDRO","d":"2021-09-21","v":2,"n":"Bajo"},{"p":"SAN PEDRO","d":"2021-10-01","v":0.5,"n":"Bajo"},{"p":"SAN PEDRO","d":"2021-10-11","v":-0.5,"n":"Bajo"},{"p":"SAN PEDRO","d":"2021-10-21","v":0,"n":"Bajo"},{"p":"SAN PEDRO","d":"2021-11-01","v":1.5,"n":"Bajo"},{"p":"SAN PEDRO","d":"2021-11-11","v":3.5,"n":"Bajo"}
  ]},
  "spacing": 10,
  "hconcat": [
    {
      "transform": [{"filter": {"field": "p", "oneOf": ["ALTO PARAGUAY","ALTO PARANA","AMAMBAY","CAAGUAZU","CAAZAPA","CANINDEYU","CORDILLERA","GUAIRA","ITAPUA","PARAGUARI","PTE. HAYES","SAN PEDRO"]}}],
      "title": {"text": "Fecha", "orient": "bottom", "anchor": "end", "dx": -168, "offset": 5, "font": "Liberation Sans", "fontSize": 27.5, "fontWeight": "normal", "color": "#000000"},
      "facet": {"field": "p", "type": "nominal", "header": {"title": null},
                "sort": ["ALTO PARAGUAY","ALTO PARANA","AMAMBAY","CAAGUAZU","CAAZAPA","CANINDEYU","CORDILLERA","GUAIRA","ITAPUA","PARAGUARI","PTE. HAYES","SAN PEDRO"]},
      "columns": 3,
      "spacing": {"row": 61, "column": 15},
      "bounds": "flush",
      "spec": {
        "width": 377, "height": 197,
        "layer": [
          {
            "mark": {"type": "circle", "size": 50, "opacity": 0.8},
            "encoding": {
              "x": {"field": "d", "type": "temporal", "title": null,
                    "scale": {"type": "utc", "nice": false, "domain": [{"year": 2020, "month": 2, "date": 5, "utc": true}, {"year": 2021, "month": 12, "date": 4, "utc": true}]},
                    "axis": {"values": [{"year": 2020, "month": 4, "date": 1, "utc": true}, {"year": 2020, "month": 7, "date": 1, "utc": true}, {"year": 2020, "month": 10, "date": 1, "utc": true}, {"year": 2021, "month": 1, "date": 1, "utc": true}, {"year": 2021, "month": 4, "date": 1, "utc": true}, {"year": 2021, "month": 7, "date": 1, "utc": true}, {"year": 2021, "month": 10, "date": 1, "utc": true}],
                             "labelExpr": "utcmonth(datum.value) == 6 ? utcFormat(datum.value, '%y') + ' jul.' : (utcmonth(datum.value) == 0 ? utcFormat(datum.value, '%y') + ' ene.' : '')",
                             "labelOverlap": false, "labelFlush": false,
                             "gridWidth": {"condition": {"test": "utcmonth(datum.value) % 6 == 0", "value": 1.4}, "value": 0.8}}},
              "y": {"field": "v", "type": "quantitative", "title": null,
                    "scale": {"domain": [-4.8, 97.5], "nice": false, "zero": false},
                    "axis": {"values": [0, 12.5, 25, 37.5, 50, 62.5, 75, 87.5],
                             "labelExpr": "datum.value % 25 == 0 ? datum.label : ''",
                             "gridWidth": {"condition": {"test": "datum.value % 25 == 0", "value": 1.4}, "value": 0.8}}},
              "color": {"field": "n", "type": "nominal",
                        "scale": {"domain": ["Alto", "Bajo", "Medio", "NA"], "range": ["#F8766D", "#00BA38", "#619CFF", "#7F7F7F"]},
                        "legend": {"title": "Nivel +", "orient": "none", "legendX": 1986, "legendY": 373}}
            }
          },
          {
            "transform": [{"aggregate": [{"op": "count", "as": "c"}], "groupby": ["p"]}],
            "mark": {"type": "rule", "color": "#00FF00", "strokeDash": [12, 8], "strokeWidth": 2.5},
            "encoding": {"y": {"datum": 5}}
          },
          {
            "transform": [{"aggregate": [{"op": "count", "as": "c"}], "groupby": ["p"]}],
            "mark": {"type": "rect", "fill": null, "fillOpacity": 0, "stroke": "#44729D", "strokeWidth": 3, "strokeDash": [13, 9], "clip": false},
            "encoding": {
              "x": {"datum": {"year": 2020, "month": 1, "date": 31, "utc": true}, "type": "temporal"},
              "x2": {"datum": {"year": 2021, "month": 11, "date": 30, "utc": true}},
              "y": {"datum": 121.9, "type": "quantitative"},
              "y2": {"datum": -5.3},
              "strokeOpacity": {"condition": {"test": "indexof(['ALTO PARANA','CAAGUAZU','CANINDEYU','CONCEPCION'], datum.p) >= 0", "value": 1}, "value": 0}
            }
          }
        ]
      }
    },
    {
      "transform": [{"filter": {"field": "p", "oneOf": ["ASUNCION","BOQUERON","CENTRAL","CONCEPCION","MISIONES","ÑEEMBUCU"]}}],
      "facet": {"field": "p", "type": "nominal", "header": {"title": null},
                "sort": ["ASUNCION","BOQUERON","CENTRAL","CONCEPCION","MISIONES","ÑEEMBUCU"]},
      "columns": 2,
      "spacing": {"row": 61, "column": 15},
      "bounds": "flush",
      "spec": {
        "width": 377, "height": 197,
        "layer": [
          {
            "mark": {"type": "circle", "size": 50, "opacity": 0.8},
            "encoding": {
              "x": {"field": "d", "type": "temporal", "title": null,
                    "scale": {"type": "utc", "nice": false, "domain": [{"year": 2020, "month": 2, "date": 5, "utc": true}, {"year": 2021, "month": 12, "date": 4, "utc": true}]},
                    "axis": {"values": [{"year": 2020, "month": 4, "date": 1, "utc": true}, {"year": 2020, "month": 7, "date": 1, "utc": true}, {"year": 2020, "month": 10, "date": 1, "utc": true}, {"year": 2021, "month": 1, "date": 1, "utc": true}, {"year": 2021, "month": 4, "date": 1, "utc": true}, {"year": 2021, "month": 7, "date": 1, "utc": true}, {"year": 2021, "month": 10, "date": 1, "utc": true}],
                             "labelExpr": "utcmonth(datum.value) == 6 ? utcFormat(datum.value, '%y') + ' jul.' : (utcmonth(datum.value) == 0 ? utcFormat(datum.value, '%y') + ' ene.' : '')",
                             "labelOverlap": false, "labelFlush": false,
                             "gridWidth": {"condition": {"test": "utcmonth(datum.value) % 6 == 0", "value": 1.4}, "value": 0.8}}},
              "y": {"field": "v", "type": "quantitative", "title": null,
                    "scale": {"domain": [-4.8, 97.5], "nice": false, "zero": false},
                    "axis": {"values": [0, 12.5, 25, 37.5, 50, 62.5, 75, 87.5], "labels": false,
                             "gridWidth": {"condition": {"test": "datum.value % 25 == 0", "value": 1.4}, "value": 0.8}}},
              "color": {"field": "n", "type": "nominal",
                        "scale": {"domain": ["Alto", "Bajo", "Medio", "NA"], "range": ["#F8766D", "#00BA38", "#619CFF", "#7F7F7F"]},
                        "legend": {"title": "Nivel +", "orient": "none", "legendX": 1986, "legendY": 373}}
            }
          },
          {
            "transform": [{"aggregate": [{"op": "count", "as": "c"}], "groupby": ["p"]}],
            "mark": {"type": "rule", "color": "#00FF00", "strokeDash": [12, 8], "strokeWidth": 2.5},
            "encoding": {"y": {"datum": 5}}
          },
          {
            "transform": [{"aggregate": [{"op": "count", "as": "c"}], "groupby": ["p"]}],
            "mark": {"type": "rect", "fill": null, "fillOpacity": 0, "stroke": "#44729D", "strokeWidth": 3, "strokeDash": [13, 9], "clip": false},
            "encoding": {
              "x": {"datum": {"year": 2020, "month": 1, "date": 31, "utc": true}, "type": "temporal"},
              "x2": {"datum": {"year": 2021, "month": 11, "date": 30, "utc": true}},
              "y": {"datum": 121.9, "type": "quantitative"},
              "y2": {"datum": -5.3},
              "strokeOpacity": {"condition": {"test": "indexof(['ALTO PARANA','CAAGUAZU','CANINDEYU','CONCEPCION'], datum.p) >= 0", "value": 1}, "value": 0}
            }
          },
          {
            "transform": [{"filter": "datum.p == 'BOQUERON'"}, {"aggregate": [{"op": "count", "as": "c"}], "groupby": ["p"]}],
            "mark": {"type": "text", "text": "> 5%", "align": "left", "baseline": "middle", "font": "Liberation Sans", "fontSize": 46, "color": "#0070C0", "clip": false},
            "encoding": {
              "x": {"datum": {"year": 2022, "month": 9, "date": 1, "utc": true}, "type": "temporal"},
              "y": {"datum": 3, "type": "quantitative"}
            }
          },
          {
            "transform": [{"filter": "datum.p == 'BOQUERON'"}, {"aggregate": [{"op": "count", "as": "c"}], "groupby": ["p"]}],
            "mark": {"type": "rule", "color": "#5B9BD5", "strokeWidth": 2.5, "clip": false},
            "encoding": {
              "x": {"datum": {"year": 2022, "month": 4, "date": 12, "utc": true}, "type": "temporal"},
              "x2": {"datum": {"year": 2022, "month": 6, "date": 19, "utc": true}},
              "y": {"datum": 3.5, "type": "quantitative"}
            }
          },
          {
            "transform": [{"filter": "datum.p == 'BOQUERON'"}, {"aggregate": [{"op": "count", "as": "c"}], "groupby": ["p"]}],
            "mark": {"type": "rule", "color": "#5B9BD5", "strokeWidth": 2.5, "clip": false},
            "encoding": {
              "x": {"datum": {"year": 2022, "month": 4, "date": 12, "utc": true}, "type": "temporal"},
              "y": {"datum": 3.5, "type": "quantitative"},
              "y2": {"datum": -41.7}
            }
          },
          {
            "transform": [{"filter": "datum.p == 'BOQUERON'"}, {"aggregate": [{"op": "count", "as": "c"}], "groupby": ["p"]}],
            "mark": {"type": "rule", "color": "#5B9BD5", "strokeWidth": 2.5, "clip": false},
            "encoding": {
              "x": {"datum": {"year": 2022, "month": 2, "date": 10, "utc": true}, "type": "temporal"},
              "x2": {"datum": {"year": 2022, "month": 4, "date": 12, "utc": true}},
              "y": {"datum": -41.7, "type": "quantitative"}
            }
          },
          {
            "transform": [{"filter": "datum.p == 'BOQUERON'"}, {"aggregate": [{"op": "count", "as": "c"}], "groupby": ["p"]}],
            "mark": {"type": "point", "shape": "triangle-right", "filled": true, "size": 160, "color": "#5B9BD5", "opacity": 1, "clip": false},
            "encoding": {
              "x": {"datum": {"year": 2022, "month": 6, "date": 26, "utc": true}, "type": "temporal"},
              "y": {"datum": 3.5, "type": "quantitative"}
            }
          },
          {
            "transform": [{"filter": "datum.p == 'BOQUERON'"}, {"aggregate": [{"op": "count", "as": "c"}], "groupby": ["p"]}],
            "mark": {"type": "point", "shape": "triangle-left", "filled": true, "size": 160, "color": "#5B9BD5", "opacity": 1, "clip": false},
            "encoding": {
              "x": {"datum": {"year": 2022, "month": 1, "date": 30, "utc": true}, "type": "temporal"},
              "y": {"datum": -41.7, "type": "quantitative"}
            }
          },
          {
            "transform": [{"filter": "datum.p == 'ÑEEMBUCU'"}, {"aggregate": [{"op": "count", "as": "c"}], "groupby": ["p"]}],
            "mark": {"type": "text", "text": "Datos: Riesgo de reb", "align": "left", "baseline": "alphabetic", "font": "Lato", "fontSize": 36, "color": "#2E75B6", "clip": false},
            "encoding": {
              "x": {"datum": {"year": 2021, "month": 8, "date": 29, "utc": true}, "type": "temporal"},
              "y": {"datum": -166.3, "type": "quantitative"}
            }
          }
        ]
      }
    }
  ],
  "config": {
    "view": {"stroke": null},
    "font": "Liberation Sans",
    "header": {"labelFont": "Liberation Sans", "labelFontSize": 22, "labelColor": "#1A1A1A", "labelPadding": -37},
    "axis": {"domain": false, "ticks": false, "gridColor": "#EBEBEB", "labelFont": "Liberation Sans", "labelFontSize": 22, "labelColor": "#4D4D4D"},
    "axisX": {"labelPadding": 8},
    "axisY": {"labelPadding": 6},
    "legend": {"symbolType": "circle", "symbolSize": 40, "symbolOpacity": 0.35, "symbolOffset": 18,
               "labelOffset": 34, "rowPadding": 23, "titlePadding": 25,
               "titleFont": "Liberation Sans", "titleFontSize": 27.5, "titleFontWeight": "normal", "titleColor": "#000000",
               "labelFont": "Liberation Sans", "labelFontSize": 22, "labelColor": "#1A1A1A"}
  }
}
